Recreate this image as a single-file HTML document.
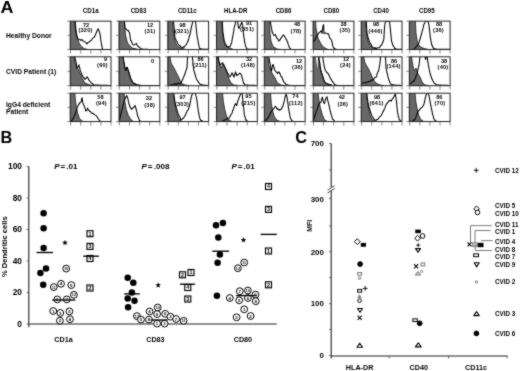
<!DOCTYPE html>
<html><head><meta charset="utf-8"><style>
html,body{margin:0;padding:0;background:#fff;}
body{width:520px;height:371px;overflow:hidden;}
svg{display:block;font-family:"Liberation Sans", sans-serif;}
</style></head><body>
<svg width="520" height="371" viewBox="0 0 520 371">
<defs><filter id="soft" x="0" y="0" width="1" height="1" color-interpolation-filters="sRGB"><feConvolveMatrix order="3" kernelMatrix="1 2 1 2 16 2 1 2 1" divisor="28" edgeMode="duplicate"/></filter></defs>
<g filter="url(#soft)">
<rect width="520" height="371" fill="#fff"/>
<defs>
<clipPath id="c00"><rect x="70.2" y="21.15" width="40.8" height="28.4"/></clipPath>
<clipPath id="c01"><rect x="119" y="21.15" width="40.8" height="28.4"/></clipPath>
<clipPath id="c02"><rect x="167.8" y="21.15" width="40.8" height="28.4"/></clipPath>
<clipPath id="c03"><rect x="216.5" y="21.15" width="40.8" height="28.4"/></clipPath>
<clipPath id="c04"><rect x="264.3" y="21.15" width="40.8" height="28.4"/></clipPath>
<clipPath id="c05"><rect x="313.1" y="21.15" width="40.8" height="28.4"/></clipPath>
<clipPath id="c06"><rect x="361.2" y="21.15" width="40.8" height="28.4"/></clipPath>
<clipPath id="c07"><rect x="409.3" y="21.15" width="40.8" height="28.4"/></clipPath>
<clipPath id="c10"><rect x="70.2" y="56.8" width="40.8" height="28.9"/></clipPath>
<clipPath id="c11"><rect x="119" y="56.8" width="40.8" height="28.9"/></clipPath>
<clipPath id="c12"><rect x="167.8" y="56.8" width="40.8" height="28.9"/></clipPath>
<clipPath id="c13"><rect x="216.5" y="56.8" width="40.8" height="28.9"/></clipPath>
<clipPath id="c14"><rect x="264.3" y="56.8" width="40.8" height="28.9"/></clipPath>
<clipPath id="c15"><rect x="313.1" y="56.8" width="40.8" height="28.9"/></clipPath>
<clipPath id="c16"><rect x="361.2" y="56.8" width="40.8" height="28.9"/></clipPath>
<clipPath id="c17"><rect x="409.3" y="56.8" width="40.8" height="28.9"/></clipPath>
<clipPath id="c20"><rect x="70.2" y="93.2" width="40.8" height="28.35"/></clipPath>
<clipPath id="c21"><rect x="119" y="93.2" width="40.8" height="28.35"/></clipPath>
<clipPath id="c22"><rect x="167.8" y="93.2" width="40.8" height="28.35"/></clipPath>
<clipPath id="c23"><rect x="216.5" y="93.2" width="40.8" height="28.35"/></clipPath>
<clipPath id="c24"><rect x="264.3" y="93.2" width="40.8" height="28.35"/></clipPath>
<clipPath id="c25"><rect x="313.1" y="93.2" width="40.8" height="28.35"/></clipPath>
<clipPath id="c26"><rect x="361.2" y="93.2" width="40.8" height="28.35"/></clipPath>
<clipPath id="c27"><rect x="409.3" y="93.2" width="40.8" height="28.35"/></clipPath>
</defs>
<g clip-path="url(#c00)">
<polygon points="70.2,49.55 70.2,18.15 75,18.15 76,30 76.8,35.4 78,40 79.4,43.6 81.5,46.5 84.5,48.7 88,49.5 88,49.55" fill="#686868" stroke="#1a1a1a" stroke-width="0.8"/>
<polyline points="74.6,18.15 74.68,19.06 74.75,19.97 74.83,20.88 74.91,21.8 74.98,22.51 75.06,23.24 75.14,24.7 75.22,24.97 75.29,26.39 75.37,27.12 75.45,27.69 75.52,29.1 75.6,29.49 75.77,30.83 75.93,31.33 76.1,32.25 76.27,33.52 76.43,34.86 76.6,34.99 76.93,36.13 77.27,37.61 77.6,38.99 78.5,39.08 79.4,39.39 80.7,40.27 82,39.5 82.83,41.06 83.67,41.1 84.5,41.61 85.33,42.11 86.17,42.86 87,43.95 87.87,42.58 88.73,42.36 89.6,41.75 90.47,40.76 91.33,40.25 92.2,39.02 92.85,38.24 93.5,37.63 94.15,37.37 94.8,36.32 95.13,35.35 95.47,34.79 95.8,33.8 96.13,32.78 96.47,32.47 96.8,31.52 97.3,30.12 97.8,29.58 98.3,28.63 98.62,29.97 98.94,30.77 99.26,31.25 99.58,32.97 99.9,32.98 100.04,34.24 100.17,35.54 100.31,35.8 100.45,37.1 100.58,37.53 100.72,39.15 100.85,40.18 100.99,40.9 101.13,42.16 101.26,42.47 101.4,43.81 101.6,44.72 101.8,45.73 102,46.61 102.2,48.05 102.4,48.7 103.2,49.6 104.17,49.6 105.15,49.6 106.12,49.6 107.1,49.6 108.08,49.6 109.05,49.6 110.03,49.6 111,49.6" fill="none" stroke="#000" stroke-width="1.05" stroke-linejoin="round"/>
</g>
<rect x="70.2" y="21.15" width="40.8" height="28.4" fill="none" stroke="#222" stroke-width="1"/>
<line x1="70.6" y1="49.55" x2="70.6" y2="53.55" stroke="#555" stroke-width="0.7"/>
<line x1="80.7" y1="49.55" x2="80.7" y2="53.55" stroke="#555" stroke-width="0.7"/>
<line x1="90.8" y1="49.55" x2="90.8" y2="53.55" stroke="#555" stroke-width="0.7"/>
<line x1="100.9" y1="49.55" x2="100.9" y2="53.55" stroke="#555" stroke-width="0.7"/>
<line x1="111" y1="49.55" x2="111" y2="53.55" stroke="#555" stroke-width="0.7"/>
<line x1="67.2" y1="21.15" x2="70.2" y2="21.15" stroke="#555" stroke-width="0.7"/>
<line x1="67.2" y1="35.35" x2="70.2" y2="35.35" stroke="#555" stroke-width="0.7"/>
<line x1="67.2" y1="49.55" x2="70.2" y2="49.55" stroke="#555" stroke-width="0.7"/>
<text x="86" y="26.7" font-size="5.6" text-anchor="middle" font-weight="bold" font-style="normal" >72</text>
<text x="85.5" y="32.4" font-size="5.6" text-anchor="middle" font-weight="bold" font-style="normal" letter-spacing="0.22">(320)</text>
<g clip-path="url(#c01)">
<polygon points="119,49.55 119,18.15 124,18.15 125.5,35 127.5,43 132,48 139,49.5 139,49.55" fill="#686868" stroke="#1a1a1a" stroke-width="0.8"/>
<polyline points="124.2,18.15 124.28,19.13 124.36,20.12 124.44,21.11 124.52,22.58 124.6,23.05 124.68,24.24 124.76,24.56 124.84,26.25 124.92,27.18 125,28.54 125.67,29.02 126.33,29.1 127,29.87 127.75,30.69 128.5,30.47 129,31.96 129.5,32.63 129.64,33.58 129.79,34.51 129.93,36.3 130.07,36.59 130.21,37.72 130.36,38.88 130.5,40.41 131,40.44 131.5,41.74 132,42.75 132.5,44.02 133,44.85 134,44.95 135,44.36 135.75,43.96 136.5,43.34 137,44.92 137.5,46 138.17,45.95 138.83,46.81 139.5,47.71 140.38,48.03 141.25,48.65 142.12,48.97 143,49.3 143.93,49.32 144.87,49.33 145.8,49.35 146.73,49.37 147.67,49.38 148.6,49.4 149.53,49.42 150.47,49.43 151.4,49.45 152.33,49.47 153.27,49.48 154.2,49.5 155.13,49.52 156.07,49.53 157,49.55 157.93,49.57 158.87,49.58 159.8,49.6" fill="none" stroke="#000" stroke-width="1.05" stroke-linejoin="round"/>
</g>
<rect x="119" y="21.15" width="40.8" height="28.4" fill="none" stroke="#222" stroke-width="1"/>
<line x1="119.4" y1="49.55" x2="119.4" y2="53.55" stroke="#555" stroke-width="0.7"/>
<line x1="129.5" y1="49.55" x2="129.5" y2="53.55" stroke="#555" stroke-width="0.7"/>
<line x1="139.6" y1="49.55" x2="139.6" y2="53.55" stroke="#555" stroke-width="0.7"/>
<line x1="149.7" y1="49.55" x2="149.7" y2="53.55" stroke="#555" stroke-width="0.7"/>
<line x1="159.8" y1="49.55" x2="159.8" y2="53.55" stroke="#555" stroke-width="0.7"/>
<line x1="116" y1="21.15" x2="119" y2="21.15" stroke="#555" stroke-width="0.7"/>
<line x1="116" y1="35.35" x2="119" y2="35.35" stroke="#555" stroke-width="0.7"/>
<line x1="116" y1="49.55" x2="119" y2="49.55" stroke="#555" stroke-width="0.7"/>
<text x="150" y="26.7" font-size="5.6" text-anchor="middle" font-weight="bold" font-style="normal" >12</text>
<text x="150" y="32.7" font-size="5.6" text-anchor="middle" font-weight="bold" font-style="normal" letter-spacing="0.22">(31)</text>
<g clip-path="url(#c02)">
<polygon points="167.8,49.55 167.8,18.15 172.5,18.15 173.5,33 175,41 177,46 182,48.5 186,49.5 186,49.55" fill="#686868" stroke="#1a1a1a" stroke-width="0.8"/>
<polyline points="173.3,18.15 173.38,19.05 173.45,19.95 173.53,20.86 173.61,21.76 173.69,22.64 173.76,23.66 173.84,24.2 173.92,24.82 174,26.18 174.07,27.03 174.15,28.15 174.23,29.48 174.3,30.09 174.38,30.8 174.46,31.81 174.54,32.78 174.61,33 174.69,34.83 174.77,35.6 174.85,36.61 174.92,37.43 175,37.88 175.43,38.82 175.86,39.42 176.29,40.93 176.71,41.23 177.14,42.17 177.57,43.25 178,44.13 178.75,45.02 179.5,45.41 180.25,46.05 181,46.92 181.95,47.16 182.9,47.75 183.58,46.78 184.26,47.11 184.94,46.23 185.62,45.11 186.3,44.63 186.67,43.87 187.03,43.02 187.4,41.89 187.77,41.82 188.13,41.11 188.5,39.66 188.78,38.68 189.07,37.24 189.35,36.26 189.63,35.53 189.92,34.44 190.2,34.06 190.39,32.34 190.57,31.2 190.76,31.24 190.94,29.79 191.13,28.38 191.31,27.83 191.5,26.28 191.72,25.85 191.93,25.36 192.15,24.25 192.37,23.08 192.58,21.88 192.8,20.9 194.1,20.9 195.4,20.9 195.51,21.86 195.63,22.55 195.74,23.62 195.86,24.36 195.97,25.98 196.09,26.68 196.2,27.91 196.3,28.38 196.4,29.23 196.5,30.84 196.6,32 196.7,32.82 196.8,33.74 196.9,34.72 197,35.6 197.1,36 197.29,37.31 197.47,38.11 197.66,38.74 197.84,39.72 198.03,40.99 198.21,41.95 198.4,43.41 198.66,44.74 198.92,45.22 199.18,46.8 199.44,47.9 199.7,48.4 200.55,48.75 201.4,49.1 202.3,49.12 203.2,49.15 204.1,49.17 205,49.2 205.9,49.23 206.8,49.25 207.7,49.27 208.6,49.3" fill="none" stroke="#000" stroke-width="1.05" stroke-linejoin="round"/>
</g>
<rect x="167.8" y="21.15" width="40.8" height="28.4" fill="none" stroke="#222" stroke-width="1"/>
<line x1="168.2" y1="49.55" x2="168.2" y2="53.55" stroke="#555" stroke-width="0.7"/>
<line x1="178.3" y1="49.55" x2="178.3" y2="53.55" stroke="#555" stroke-width="0.7"/>
<line x1="188.4" y1="49.55" x2="188.4" y2="53.55" stroke="#555" stroke-width="0.7"/>
<line x1="198.5" y1="49.55" x2="198.5" y2="53.55" stroke="#555" stroke-width="0.7"/>
<line x1="208.6" y1="49.55" x2="208.6" y2="53.55" stroke="#555" stroke-width="0.7"/>
<line x1="164.8" y1="21.15" x2="167.8" y2="21.15" stroke="#555" stroke-width="0.7"/>
<line x1="164.8" y1="35.35" x2="167.8" y2="35.35" stroke="#555" stroke-width="0.7"/>
<line x1="164.8" y1="49.55" x2="167.8" y2="49.55" stroke="#555" stroke-width="0.7"/>
<text x="182.5" y="26.5" font-size="5.6" text-anchor="middle" font-weight="bold" font-style="normal" >98</text>
<text x="182" y="32.5" font-size="5.6" text-anchor="middle" font-weight="bold" font-style="normal" letter-spacing="0.22">(321)</text>
<g clip-path="url(#c03)">
<polygon points="216.5,49.55 216.5,18.15 222,18.15 222.5,31.9 223.3,38.8 224.6,44 227.2,46.6 229.8,47.9 233,49.2 233,49.55" fill="#686868" stroke="#1a1a1a" stroke-width="0.8"/>
<polyline points="222,18.15 222.06,19.07 222.12,19.98 222.18,20.9 222.24,21.82 222.3,23.23 222.36,23.5 222.42,24.26 222.48,25.18 222.54,26.07 222.6,26.99 222.66,28.37 222.72,29.59 222.78,30.44 222.84,30.96 222.9,32.07 223.04,33.2 223.19,33.38 223.33,34.98 223.48,36.22 223.62,37.04 223.77,37.98 223.91,38.64 224.06,39.28 224.2,40.92 224.55,41.27 224.9,42.63 225.25,43.67 225.6,43.89 225.95,44.74 226.3,46.19 227.2,46.8 228.1,47.04 228.95,46.59 229.8,46.22 230.23,46.17 230.65,45.19 231.07,43.59 231.5,43.46 231.69,42.64 231.87,41.3 232.06,39.98 232.24,39.21 232.43,37.77 232.61,36.65 232.8,36.72 232.96,35.4 233.12,34.3 233.29,33.79 233.45,32.28 233.61,31.8 233.78,30.78 233.94,29.14 234.1,28.23 234.36,27.23 234.62,26.13 234.88,25.48 235.14,24.08 235.4,23.21 235.7,21.64 236,20.8 237.6,20.8 237.7,21.85 237.8,23.35 237.9,23.79 238,24.95 238.27,26.26 238.53,27.78 238.8,28.41 239.25,28.11 239.7,26.8 240.13,25.97 240.57,25.09 241,23.67 241.45,23.28 241.9,22.15 242.17,23.09 242.43,25.1 242.7,25.54 242.78,26.87 242.87,28.15 242.95,28.96 243.03,29.71 243.12,30.92 243.2,31.96 243.33,33.21 243.47,33.47 243.6,34.97 243.73,35.62 243.87,36.65 244,38.2 244.18,38.95 244.36,40.05 244.54,41.31 244.72,42.51 244.9,43.04 245.17,44.39 245.43,45.44 245.7,46.61 246.35,47.86 247,48.7 247.9,48.95 248.8,49.2 249.74,49.21 250.69,49.22 251.63,49.23 252.58,49.24 253.52,49.26 254.47,49.27 255.41,49.28 256.36,49.29 257.3,49.3" fill="none" stroke="#000" stroke-width="1.05" stroke-linejoin="round"/>
</g>
<rect x="216.5" y="21.15" width="40.8" height="28.4" fill="none" stroke="#222" stroke-width="1"/>
<line x1="216.9" y1="49.55" x2="216.9" y2="53.55" stroke="#555" stroke-width="0.7"/>
<line x1="227" y1="49.55" x2="227" y2="53.55" stroke="#555" stroke-width="0.7"/>
<line x1="237.1" y1="49.55" x2="237.1" y2="53.55" stroke="#555" stroke-width="0.7"/>
<line x1="247.2" y1="49.55" x2="247.2" y2="53.55" stroke="#555" stroke-width="0.7"/>
<line x1="257.3" y1="49.55" x2="257.3" y2="53.55" stroke="#555" stroke-width="0.7"/>
<line x1="213.5" y1="21.15" x2="216.5" y2="21.15" stroke="#555" stroke-width="0.7"/>
<line x1="213.5" y1="35.35" x2="216.5" y2="35.35" stroke="#555" stroke-width="0.7"/>
<line x1="213.5" y1="49.55" x2="216.5" y2="49.55" stroke="#555" stroke-width="0.7"/>
<text x="249" y="25.4" font-size="5.6" text-anchor="middle" font-weight="bold" font-style="normal" >91</text>
<text x="247" y="31.2" font-size="5.6" text-anchor="middle" font-weight="bold" font-style="normal" letter-spacing="0.22">(351)</text>
<g clip-path="url(#c04)">
<polygon points="264.3,49.55 264.3,18.15 269.5,18.15 270,33 271,41 273,46.5 277,49 281,49.5 281,49.55" fill="#686868" stroke="#1a1a1a" stroke-width="0.8"/>
<polyline points="269.8,18.15 269.95,19.05 270.11,19.94 270.26,20.84 270.42,21.73 270.57,22.57 270.73,23.56 270.88,24.39 271.04,25.8 271.19,26.43 271.35,27.52 271.5,28.49 271.7,28.74 271.9,30.07 272.1,31.49 272.3,32.37 272.5,32.6 273,33.58 273.5,34.94 274,35.53 274.75,35.21 275.5,34.53 276,36.19 276.5,37.31 277,38.44 277.5,38.62 278.25,40.24 279,41.18 279.5,39.86 280,39.92 280.5,39.26 281,37.69 281.62,37.62 282.25,36.14 282.88,35.36 283.5,35.04 284,35.74 284.5,35.88 285,37.05 285.5,38.02 286,38.82 286.5,39.67 287,40.8 287.5,42.24 287.8,42.47 288.1,44.06 288.4,44.93 288.7,45.47 289,46.81 289.67,47.97 290.33,48.67 291,49.5 291.93,49.51 292.87,49.51 293.8,49.52 294.73,49.53 295.67,49.53 296.6,49.54 297.53,49.55 298.47,49.55 299.4,49.56 300.33,49.57 301.27,49.57 302.2,49.58 303.13,49.59 304.07,49.59 305,49.6" fill="none" stroke="#000" stroke-width="1.05" stroke-linejoin="round"/>
</g>
<rect x="264.3" y="21.15" width="40.8" height="28.4" fill="none" stroke="#222" stroke-width="1"/>
<line x1="264.7" y1="49.55" x2="264.7" y2="53.55" stroke="#555" stroke-width="0.7"/>
<line x1="274.8" y1="49.55" x2="274.8" y2="53.55" stroke="#555" stroke-width="0.7"/>
<line x1="284.9" y1="49.55" x2="284.9" y2="53.55" stroke="#555" stroke-width="0.7"/>
<line x1="295" y1="49.55" x2="295" y2="53.55" stroke="#555" stroke-width="0.7"/>
<line x1="305.1" y1="49.55" x2="305.1" y2="53.55" stroke="#555" stroke-width="0.7"/>
<line x1="261.3" y1="21.15" x2="264.3" y2="21.15" stroke="#555" stroke-width="0.7"/>
<line x1="261.3" y1="35.35" x2="264.3" y2="35.35" stroke="#555" stroke-width="0.7"/>
<line x1="261.3" y1="49.55" x2="264.3" y2="49.55" stroke="#555" stroke-width="0.7"/>
<text x="297" y="26" font-size="5.6" text-anchor="middle" font-weight="bold" font-style="normal" >48</text>
<text x="296" y="32.5" font-size="5.6" text-anchor="middle" font-weight="bold" font-style="normal" letter-spacing="0.22">(78)</text>
<g clip-path="url(#c05)">
<polygon points="313.1,49.55 313.1,18.15 315.5,18.15 316,28 318,38 321,44 324,47.5 328,49.5 332,49.8 332,49.55" fill="#686868" stroke="#1a1a1a" stroke-width="0.8"/>
<polyline points="313.5,42.01 314,40.66 314.5,40.82 315,39.75 315.5,39.09 316,37.28 316.5,36.6 317,35.49 317.5,35.51 318,34.15 318.5,33.19 319,32.71 319.5,32.45 320.25,31.85 321,30.73 321.5,31.61 322,33.46 322.15,32.08 322.3,31.22 322.45,29.55 322.6,28.51 322.75,28.21 322.9,26.92 323.05,25.53 323.2,25.48 323.6,24.65 323.64,25.78 323.69,25.93 323.73,27.73 323.78,27.8 323.82,29.62 323.87,30.12 323.91,30.93 323.96,32.11 324,33.47 325,32.99 326,33.09 327.25,33.78 328.5,33.71 328.75,34.57 329,35.63 329.25,36.51 329.5,37.67 330.17,38.46 330.83,39.12 331.5,40.29 331.71,40.77 331.93,42 332.14,42.65 332.36,43.83 332.57,44.47 332.79,45.73 333,46.47 333.75,48.01 334.5,48.5 335.33,48.9 336.17,49.3 337,49.7 337.91,49.7 338.82,49.7 339.73,49.7 340.64,49.7 341.56,49.7 342.47,49.7 343.38,49.7 344.29,49.7 345.2,49.7 346.11,49.7 347.02,49.7 347.93,49.7 348.84,49.7 349.76,49.7 350.67,49.7 351.58,49.7 352.49,49.7 353.4,49.7" fill="none" stroke="#000" stroke-width="1.05" stroke-linejoin="round"/>
</g>
<rect x="313.1" y="21.15" width="40.8" height="28.4" fill="none" stroke="#222" stroke-width="1"/>
<line x1="313.5" y1="49.55" x2="313.5" y2="53.55" stroke="#555" stroke-width="0.7"/>
<line x1="323.6" y1="49.55" x2="323.6" y2="53.55" stroke="#555" stroke-width="0.7"/>
<line x1="333.7" y1="49.55" x2="333.7" y2="53.55" stroke="#555" stroke-width="0.7"/>
<line x1="343.8" y1="49.55" x2="343.8" y2="53.55" stroke="#555" stroke-width="0.7"/>
<line x1="353.9" y1="49.55" x2="353.9" y2="53.55" stroke="#555" stroke-width="0.7"/>
<line x1="310.1" y1="21.15" x2="313.1" y2="21.15" stroke="#555" stroke-width="0.7"/>
<line x1="310.1" y1="35.35" x2="313.1" y2="35.35" stroke="#555" stroke-width="0.7"/>
<line x1="310.1" y1="49.55" x2="313.1" y2="49.55" stroke="#555" stroke-width="0.7"/>
<text x="343.5" y="26" font-size="5.6" text-anchor="middle" font-weight="bold" font-style="normal" >38</text>
<text x="345" y="32.2" font-size="5.6" text-anchor="middle" font-weight="bold" font-style="normal" letter-spacing="0.22">(35)</text>
<g clip-path="url(#c06)">
<polygon points="361.2,49.55 361.2,18.15 365.5,18.15 366.5,33 368,41 370,45.5 373,48 378,49.5 378,49.55" fill="#686868" stroke="#1a1a1a" stroke-width="0.8"/>
<polyline points="366,18.15 366.06,19.08 366.12,20.01 366.19,20.93 366.25,21.86 366.31,22.85 366.38,23.38 366.44,24.62 366.5,26.05 366.56,26.07 366.62,27.78 366.69,28.28 366.75,29.28 366.81,30.58 366.88,31.03 366.94,32.08 367,33.21 367.22,34.42 367.44,34.6 367.67,36.03 367.89,36.78 368.11,37.59 368.33,38.23 368.56,39.05 368.78,39.62 369,40.59 369.5,41.44 370,43.1 370.5,43.48 371,44.3 371.5,45.13 372,46.88 373,47.41 374,47.69 375,47.76 376,48.5 377.17,47.98 378.33,47.81 379.5,47.76 380,46.66 380.5,46.22 381,45.26 381.5,45.27 382,44.52 382.36,43.19 382.72,42 383.08,41.93 383.44,40.35 383.8,39.54 383.85,38.25 383.91,37.77 383.96,36.97 384.02,36.1 384.07,34.87 384.12,34.31 384.18,32.86 384.23,32.24 384.28,31.15 384.34,30.59 384.39,29.3 384.45,28.37 384.5,27.78 384.6,26.71 384.7,26.09 384.8,25.03 384.9,24.28 385,23.17 385.8,21.5 386.73,21.5 387.65,21.5 388.57,21.5 389.5,21.5 389.62,22.75 389.73,23.95 389.85,24.43 389.97,25.38 390.08,27.12 390.2,27.21 390.3,28.81 390.4,29.69 390.5,30 390.6,31.84 390.7,32.86 390.8,33.54 390.9,34.62 391,35.68 391.1,35.9 391.2,37.4 391.3,38.45 391.4,39.89 391.5,40.94 391.82,42.03 392.15,42.84 392.48,44.26 392.8,45.1 393.25,45.99 393.7,46.35 394.15,47.01 394.6,48.4 395.8,48.8 397,49.2 397.96,49.22 398.92,49.24 399.88,49.26 400.84,49.28 401.8,49.3" fill="none" stroke="#000" stroke-width="1.05" stroke-linejoin="round"/>
</g>
<rect x="361.2" y="21.15" width="40.8" height="28.4" fill="none" stroke="#222" stroke-width="1"/>
<line x1="361.6" y1="49.55" x2="361.6" y2="53.55" stroke="#555" stroke-width="0.7"/>
<line x1="371.7" y1="49.55" x2="371.7" y2="53.55" stroke="#555" stroke-width="0.7"/>
<line x1="381.8" y1="49.55" x2="381.8" y2="53.55" stroke="#555" stroke-width="0.7"/>
<line x1="391.9" y1="49.55" x2="391.9" y2="53.55" stroke="#555" stroke-width="0.7"/>
<line x1="402" y1="49.55" x2="402" y2="53.55" stroke="#555" stroke-width="0.7"/>
<line x1="358.2" y1="21.15" x2="361.2" y2="21.15" stroke="#555" stroke-width="0.7"/>
<line x1="358.2" y1="35.35" x2="361.2" y2="35.35" stroke="#555" stroke-width="0.7"/>
<line x1="358.2" y1="49.55" x2="361.2" y2="49.55" stroke="#555" stroke-width="0.7"/>
<text x="376" y="26" font-size="5.6" text-anchor="middle" font-weight="bold" font-style="normal" >98</text>
<text x="375.5" y="32.5" font-size="5.6" text-anchor="middle" font-weight="bold" font-style="normal" letter-spacing="0.22">(446)</text>
<g clip-path="url(#c07)">
<polygon points="409.3,49.55 409.3,18.15 415.2,18.15 416,33 417,40 418.5,44.5 421,47.2 425,48.8 428,49.3 428,49.55" fill="#686868" stroke="#1a1a1a" stroke-width="0.8"/>
<polyline points="412,49.4 413.3,49.25 414.6,49.1 415.23,47.83 415.87,47.21 416.5,46.07 417.17,46.04 417.83,44.9 418.5,44.14 418.76,43.28 419.02,42.47 419.29,41.4 419.55,40 419.81,40.01 420.08,39.1 420.34,37.97 420.6,37.14 420.88,36.28 421.17,34.62 421.45,34.36 421.73,32.83 422.02,31.63 422.3,30.84 422.54,30.37 422.79,28.8 423.03,28.41 423.27,27.68 423.51,26.16 423.76,25.06 424,24.18 424.47,23.4 424.93,22.49 425.4,21.2 425.9,20.7 426.95,20.7 428,20.7 428.27,21.87 428.53,23.16 428.8,24.36 428.91,24.7 429.02,25.74 429.14,26.82 429.25,28.32 429.36,28.8 429.48,30.05 429.59,30.4 429.7,31.42 429.81,32.63 429.93,34.06 430.04,35.07 430.16,36.04 430.27,36.6 430.39,37.83 430.5,38.76 430.72,39.78 430.93,40.41 431.15,42.28 431.37,42.54 431.58,44.41 431.8,45.38 432.23,45.2 432.67,46.52 433.1,47.75 433.95,48.56 434.8,48.7 435.9,48.95 437,49.2 437.93,49.21 438.86,49.21 439.79,49.22 440.71,49.23 441.64,49.24 442.57,49.24 443.5,49.25 444.43,49.26 445.36,49.26 446.29,49.27 447.21,49.28 448.14,49.29 449.07,49.29 450,49.3" fill="none" stroke="#000" stroke-width="1.05" stroke-linejoin="round"/>
</g>
<rect x="409.3" y="21.15" width="40.8" height="28.4" fill="none" stroke="#222" stroke-width="1"/>
<line x1="409.7" y1="49.55" x2="409.7" y2="53.55" stroke="#555" stroke-width="0.7"/>
<line x1="419.8" y1="49.55" x2="419.8" y2="53.55" stroke="#555" stroke-width="0.7"/>
<line x1="429.9" y1="49.55" x2="429.9" y2="53.55" stroke="#555" stroke-width="0.7"/>
<line x1="440" y1="49.55" x2="440" y2="53.55" stroke="#555" stroke-width="0.7"/>
<line x1="450.1" y1="49.55" x2="450.1" y2="53.55" stroke="#555" stroke-width="0.7"/>
<line x1="406.3" y1="21.15" x2="409.3" y2="21.15" stroke="#555" stroke-width="0.7"/>
<line x1="406.3" y1="35.35" x2="409.3" y2="35.35" stroke="#555" stroke-width="0.7"/>
<line x1="406.3" y1="49.55" x2="409.3" y2="49.55" stroke="#555" stroke-width="0.7"/>
<text x="439" y="26" font-size="5.6" text-anchor="middle" font-weight="bold" font-style="normal" >88</text>
<text x="438.5" y="32.2" font-size="5.6" text-anchor="middle" font-weight="bold" font-style="normal" letter-spacing="0.22">(36)</text>
<g clip-path="url(#c10)">
<polygon points="70.2,85.7 70.2,53.8 73.5,53.8 75,63 77,67 79,71 82,78 85,83 90,85 94,85.5 94,85.7" fill="#686868" stroke="#1a1a1a" stroke-width="0.8"/>
<polyline points="74,53.8 74.22,54.71 74.44,55.62 74.67,56.53 74.89,57.44 75.11,58.3 75.33,59.01 75.56,59.86 75.78,61.58 76,61.68 76.17,63.09 76.33,63.61 76.5,65.03 76.67,66.5 76.83,66.6 77,68.35 77.5,67.26 78,66.93 78.5,65.97 79,64.7 79.2,66.44 79.4,66.98 79.6,67.48 79.8,68.45 80,69.99 80.36,70.8 80.71,71.5 81.07,72.18 81.43,73.26 81.79,74.08 82.14,75.52 82.5,75.45 83.12,77.03 83.75,77.87 84.38,77.83 85,79.47 85.67,78.57 86.33,78.11 87,76.77 87.75,77.86 88.5,78.88 89,80.35 89.5,80.7 90,81.25 90.5,82.12 91,82.75 91.75,83 92.5,83.56 93.25,84.5 94,85 94.94,85.03 95.89,85.06 96.83,85.08 97.78,85.11 98.72,85.14 99.67,85.17 100.61,85.19 101.56,85.22 102.5,85.25 103.44,85.28 104.39,85.31 105.33,85.33 106.28,85.36 107.22,85.39 108.17,85.42 109.11,85.44 110.06,85.47 111,85.5" fill="none" stroke="#000" stroke-width="1.05" stroke-linejoin="round"/>
</g>
<rect x="70.2" y="56.8" width="40.8" height="28.9" fill="none" stroke="#222" stroke-width="1"/>
<line x1="70.6" y1="85.7" x2="70.6" y2="89.7" stroke="#555" stroke-width="0.7"/>
<line x1="80.7" y1="85.7" x2="80.7" y2="89.7" stroke="#555" stroke-width="0.7"/>
<line x1="90.8" y1="85.7" x2="90.8" y2="89.7" stroke="#555" stroke-width="0.7"/>
<line x1="100.9" y1="85.7" x2="100.9" y2="89.7" stroke="#555" stroke-width="0.7"/>
<line x1="111" y1="85.7" x2="111" y2="89.7" stroke="#555" stroke-width="0.7"/>
<line x1="67.2" y1="56.8" x2="70.2" y2="56.8" stroke="#555" stroke-width="0.7"/>
<line x1="67.2" y1="71.25" x2="70.2" y2="71.25" stroke="#555" stroke-width="0.7"/>
<line x1="67.2" y1="85.7" x2="70.2" y2="85.7" stroke="#555" stroke-width="0.7"/>
<text x="105.5" y="60.8" font-size="5.6" text-anchor="middle" font-weight="bold" font-style="normal" >9</text>
<text x="102.5" y="66.8" font-size="5.6" text-anchor="middle" font-weight="bold" font-style="normal" letter-spacing="0.22">(60)</text>
<g clip-path="url(#c11)">
<polygon points="119,85.7 119,53.8 122.5,53.8 124,63 125.5,70 127,67 128.5,71 130.5,78 133,83 137,85 142,85.5 142,85.7" fill="#686868" stroke="#1a1a1a" stroke-width="0.8"/>
<polyline points="122.5,53.8 122.65,54.72 122.8,55.64 122.95,56.56 123.1,57.48 123.25,58.77 123.4,59.08 123.55,60.72 123.7,60.88 123.85,61.82 124,63.01 124.21,63.66 124.43,64.86 124.64,66.5 124.86,67.42 125.07,68.34 125.29,69.14 125.5,70.45 126,69.48 126.5,68.05 127,67.24 127.38,67.5 127.75,69.26 128.12,69.95 128.5,71.28 128.75,72.03 129,72.51 129.25,73.13 129.5,74.97 129.75,74.97 130,76.22 130.25,76.95 130.5,77.78 130.92,79.1 131.33,80.19 131.75,80.24 132.17,81.5 132.58,81.95 133,83.06 134,83.38 135,83.63 136,84.5 137,85 138,85.1 139,85.2 140,85.3 141,85.4 142,85.5 142.94,85.5 143.87,85.5 144.81,85.5 145.75,85.5 146.68,85.5 147.62,85.5 148.56,85.5 149.49,85.5 150.43,85.5 151.37,85.5 152.31,85.5 153.24,85.5 154.18,85.5 155.12,85.5 156.05,85.5 156.99,85.5 157.93,85.5 158.86,85.5 159.8,85.5" fill="none" stroke="#000" stroke-width="1.05" stroke-linejoin="round"/>
</g>
<rect x="119" y="56.8" width="40.8" height="28.9" fill="none" stroke="#222" stroke-width="1"/>
<line x1="119.4" y1="85.7" x2="119.4" y2="89.7" stroke="#555" stroke-width="0.7"/>
<line x1="129.5" y1="85.7" x2="129.5" y2="89.7" stroke="#555" stroke-width="0.7"/>
<line x1="139.6" y1="85.7" x2="139.6" y2="89.7" stroke="#555" stroke-width="0.7"/>
<line x1="149.7" y1="85.7" x2="149.7" y2="89.7" stroke="#555" stroke-width="0.7"/>
<line x1="159.8" y1="85.7" x2="159.8" y2="89.7" stroke="#555" stroke-width="0.7"/>
<line x1="116" y1="56.8" x2="119" y2="56.8" stroke="#555" stroke-width="0.7"/>
<line x1="116" y1="71.25" x2="119" y2="71.25" stroke="#555" stroke-width="0.7"/>
<line x1="116" y1="85.7" x2="119" y2="85.7" stroke="#555" stroke-width="0.7"/>
<text x="152.5" y="63.2" font-size="5.6" text-anchor="middle" font-weight="bold" font-style="normal" >0</text>
<g clip-path="url(#c12)">
<polygon points="167.8,85.7 167.8,53.8 169.5,53.8 171,63 174,68 177,74 179.5,79 181,83 185,85 189,85.5 189,85.7" fill="#686868" stroke="#1a1a1a" stroke-width="0.8"/>
<polyline points="169.5,85.4 170.43,85.2 171.36,85 172.29,84.8 173.21,84.6 174.14,84.03 175.07,83.88 176,84.45 177,83.8 178,83.29 179,83.85 180,83.75 181,82.94 181.5,81.6 182,80.66 182.5,79.55 183,78.83 183.31,77.68 183.62,76.96 183.94,76.11 184.25,75.58 184.56,75.05 184.88,74.02 185.19,72.78 185.5,71.91 185.88,71.03 186.25,69.86 186.62,68.82 187,67.52 187.04,66.84 187.08,66.68 187.12,64.84 187.17,64.34 187.21,63.56 187.25,62.9 187.29,61.27 187.33,60.41 187.38,59.47 187.42,58.72 187.46,57.86 187.5,57 187.57,55.93 187.63,54.87 187.7,53.8 188.62,53.8 189.54,53.8 190.46,53.8 191.38,53.8 192.3,53.8 192.37,54.87 192.43,55.93 192.5,57 192.56,58.5 192.62,59.38 192.69,60.41 192.75,60.47 192.81,61.49 192.88,63.23 192.94,64.44 193,64.97 193.17,65.98 193.33,66.23 193.5,67.55 193.67,69.03 193.83,69.8 194,70.72 194.17,71.74 194.33,71.83 194.5,72.57 194.81,73.49 195.12,74.77 195.44,75.83 195.75,76.99 196.06,77.62 196.38,78.41 196.69,79.42 197,79.95 197.5,80.81 198,80.99 198.5,82.56 199,82.71 199.75,83.96 200.5,84.16 201.25,84.5 202,85 202.94,85.07 203.89,85.14 204.83,85.21 205.77,85.29 206.71,85.36 207.66,85.43 208.6,85.5" fill="none" stroke="#000" stroke-width="1.05" stroke-linejoin="round"/>
</g>
<rect x="167.8" y="56.8" width="40.8" height="28.9" fill="none" stroke="#222" stroke-width="1"/>
<line x1="168.2" y1="85.7" x2="168.2" y2="89.7" stroke="#555" stroke-width="0.7"/>
<line x1="178.3" y1="85.7" x2="178.3" y2="89.7" stroke="#555" stroke-width="0.7"/>
<line x1="188.4" y1="85.7" x2="188.4" y2="89.7" stroke="#555" stroke-width="0.7"/>
<line x1="198.5" y1="85.7" x2="198.5" y2="89.7" stroke="#555" stroke-width="0.7"/>
<line x1="208.6" y1="85.7" x2="208.6" y2="89.7" stroke="#555" stroke-width="0.7"/>
<line x1="164.8" y1="56.8" x2="167.8" y2="56.8" stroke="#555" stroke-width="0.7"/>
<line x1="164.8" y1="71.25" x2="167.8" y2="71.25" stroke="#555" stroke-width="0.7"/>
<line x1="164.8" y1="85.7" x2="167.8" y2="85.7" stroke="#555" stroke-width="0.7"/>
<text x="200.5" y="61.2" font-size="5.6" text-anchor="middle" font-weight="bold" font-style="normal" >86</text>
<text x="200" y="67.2" font-size="5.6" text-anchor="middle" font-weight="bold" font-style="normal" letter-spacing="0.22">(211)</text>
<g clip-path="url(#c13)">
<polygon points="216.5,85.7 216.5,53.8 218,53.8 219,63 221,68 223,64 225,68 227,73 229,79 231,83 234,85 238,85.5 238,85.7" fill="#686868" stroke="#1a1a1a" stroke-width="0.8"/>
<polyline points="217,53.8 217.25,54.73 217.5,55.67 217.75,56.6 218,57.53 218.25,58.25 218.5,58.99 218.75,60.06 219,61.42 219.25,62.42 219.5,62.71 219.75,63.59 220,65.03 220.83,64.42 221.67,63.54 222.5,62.7 223,63.91 223.5,64.06 224,65.18 224.5,66.16 225,67.5 225.36,68.02 225.71,69.14 226.07,69.54 226.43,70.14 226.79,71.01 227.14,72.65 227.5,73.23 228,73.59 228.5,74.07 229,75.4 229.5,76.39 230,76.91 230.5,75.73 231,75.18 231.5,74.47 232,72.7 232.5,73.49 233,74.82 233.5,75.91 234,77.2 234.3,75.67 234.6,75.33 234.9,74.26 235.2,73.01 235.5,71.68 235.88,73.52 236.25,73.79 236.62,75.35 237,75.7 237.75,74.69 238.5,74.29 239.5,73.27 240.5,73.5 240.88,74 241.25,74.66 241.62,75.7 242,76.91 242.25,78.18 242.5,79.49 242.75,79.61 243,80.88 243.25,81.68 243.5,83.52 244.25,83.61 245,85 245.95,85.04 246.89,85.08 247.84,85.12 248.78,85.15 249.73,85.19 250.68,85.23 251.62,85.27 252.57,85.31 253.52,85.35 254.46,85.38 255.41,85.42 256.35,85.46 257.3,85.5" fill="none" stroke="#000" stroke-width="1.05" stroke-linejoin="round"/>
</g>
<rect x="216.5" y="56.8" width="40.8" height="28.9" fill="none" stroke="#222" stroke-width="1"/>
<line x1="216.9" y1="85.7" x2="216.9" y2="89.7" stroke="#555" stroke-width="0.7"/>
<line x1="227" y1="85.7" x2="227" y2="89.7" stroke="#555" stroke-width="0.7"/>
<line x1="237.1" y1="85.7" x2="237.1" y2="89.7" stroke="#555" stroke-width="0.7"/>
<line x1="247.2" y1="85.7" x2="247.2" y2="89.7" stroke="#555" stroke-width="0.7"/>
<line x1="257.3" y1="85.7" x2="257.3" y2="89.7" stroke="#555" stroke-width="0.7"/>
<line x1="213.5" y1="56.8" x2="216.5" y2="56.8" stroke="#555" stroke-width="0.7"/>
<line x1="213.5" y1="71.25" x2="216.5" y2="71.25" stroke="#555" stroke-width="0.7"/>
<line x1="213.5" y1="85.7" x2="216.5" y2="85.7" stroke="#555" stroke-width="0.7"/>
<text x="249" y="60.8" font-size="5.6" text-anchor="middle" font-weight="bold" font-style="normal" >32</text>
<text x="248" y="67" font-size="5.6" text-anchor="middle" font-weight="bold" font-style="normal" letter-spacing="0.22">(148)</text>
<g clip-path="url(#c14)">
<polygon points="264.3,85.7 264.3,53.8 267.5,53.8 269,66 272,73 275,78 277.5,83 281,85 285,85.5 285,85.7" fill="#686868" stroke="#1a1a1a" stroke-width="0.8"/>
<polyline points="268,53.8 268.2,54.72 268.4,55.64 268.6,56.56 268.8,57.48 269,57.91 269.2,58.84 269.4,60.12 269.6,61.6 269.8,62.5 270,63.26 270.17,64.44 270.33,65.25 270.5,65.48 270.67,66.21 270.83,67.92 271,68.6 271.17,68.71 271.33,70.29 271.5,70.87 271.71,69.86 271.93,68.81 272.14,67.64 272.36,66.45 272.57,65.76 272.79,64.84 273,64.5 273.25,64.46 273.5,66.26 273.75,66.3 274,67.34 274.25,68.73 274.5,69.6 274.75,70.05 275,70.5 275.83,71.64 276.67,72.19 277.5,73.46 278.25,72.16 279,71.85 279.42,73.27 279.83,73.15 280.25,74.4 280.67,75.68 281.08,76.46 281.5,76.49 281.92,77.32 282.33,78.19 282.75,79.96 283.17,80.07 283.58,81.44 284,82.44 284.67,82.66 285.33,83.42 286,84.5 287,84.75 288,85 289,85.25 290,85.5 290.94,85.5 291.88,85.5 292.81,85.5 293.75,85.5 294.69,85.5 295.62,85.5 296.56,85.5 297.5,85.5 298.44,85.5 299.38,85.5 300.31,85.5 301.25,85.5 302.19,85.5 303.12,85.5 304.06,85.5 305,85.5" fill="none" stroke="#000" stroke-width="1.05" stroke-linejoin="round"/>
</g>
<rect x="264.3" y="56.8" width="40.8" height="28.9" fill="none" stroke="#222" stroke-width="1"/>
<line x1="264.7" y1="85.7" x2="264.7" y2="89.7" stroke="#555" stroke-width="0.7"/>
<line x1="274.8" y1="85.7" x2="274.8" y2="89.7" stroke="#555" stroke-width="0.7"/>
<line x1="284.9" y1="85.7" x2="284.9" y2="89.7" stroke="#555" stroke-width="0.7"/>
<line x1="295" y1="85.7" x2="295" y2="89.7" stroke="#555" stroke-width="0.7"/>
<line x1="305.1" y1="85.7" x2="305.1" y2="89.7" stroke="#555" stroke-width="0.7"/>
<line x1="261.3" y1="56.8" x2="264.3" y2="56.8" stroke="#555" stroke-width="0.7"/>
<line x1="261.3" y1="71.25" x2="264.3" y2="71.25" stroke="#555" stroke-width="0.7"/>
<line x1="261.3" y1="85.7" x2="264.3" y2="85.7" stroke="#555" stroke-width="0.7"/>
<text x="299" y="63" font-size="5.6" text-anchor="middle" font-weight="bold" font-style="normal" >12</text>
<text x="297.5" y="68.7" font-size="5.6" text-anchor="middle" font-weight="bold" font-style="normal" letter-spacing="0.22">(36)</text>
<g clip-path="url(#c15)">
<polygon points="313.1,85.7 313.1,53.8 318.3,53.8 319.8,63.9 320.7,70.1 322.5,75.5 324.2,80.8 326,83.5 332,85.2 332,85.7" fill="#686868" stroke="#1a1a1a" stroke-width="0.8"/>
<polygon points="315.4,53.8 318,53.8 317.9,62 317.3,69 316.6,62" fill="#fff"/>
<polyline points="318.3,53.8 318.44,54.72 318.57,55.64 318.71,56.55 318.85,57.47 318.98,58.89 319.12,59.44 319.25,59.97 319.39,61.38 319.53,61.86 319.66,62.74 319.8,63.35 319.95,65.21 320.1,66.42 320.25,67.15 320.4,68.52 320.55,68.54 320.7,69.81 321,70.97 321.3,72.4 321.6,73.3 321.9,73.58 322.2,74.33 322.5,75.42 322.78,76.38 323.07,77.74 323.35,77.8 323.63,79.37 323.92,80.18 324.2,81.16 324.8,82 325.4,82.72 326,83.31 327,83.58 328,83.91 329,84.66 330,84.63 331,84.92 332,85.2" fill="none" stroke="#000" stroke-width="1.05" stroke-linejoin="round"/>
<polyline points="322.3,53.8 322.42,54.72 322.54,55.64 322.67,56.57 322.79,57.49 322.91,57.95 323.03,59 323.16,60.53 323.28,60.9 323.4,61.62 323.59,62.48 323.78,63.94 323.97,64.58 324.16,66.18 324.34,66.97 324.53,67.97 324.72,68.06 324.91,68.75 325.1,69.66 325.8,71 326.5,72.13 327.23,72.74 327.97,73.41 328.7,74.51 329.14,75.61 329.58,76.55 330.02,77.51 330.46,78.5 330.9,79.18 331.47,79.48 332.05,81.17 332.62,81.47 333.2,82.67 333.77,83.19 334.33,84.33 334.9,84.8 335.95,85.1 337,85.4 337.91,85.41 338.82,85.41 339.73,85.42 340.64,85.42 341.56,85.43 342.47,85.43 343.38,85.44 344.29,85.44 345.2,85.45 346.11,85.46 347.02,85.46 347.93,85.47 348.84,85.47 349.76,85.48 350.67,85.48 351.58,85.49 352.49,85.49 353.4,85.5" fill="none" stroke="#000" stroke-width="1.05" stroke-linejoin="round"/>
</g>
<rect x="313.1" y="56.8" width="40.8" height="28.9" fill="none" stroke="#222" stroke-width="1"/>
<line x1="313.5" y1="85.7" x2="313.5" y2="89.7" stroke="#555" stroke-width="0.7"/>
<line x1="323.6" y1="85.7" x2="323.6" y2="89.7" stroke="#555" stroke-width="0.7"/>
<line x1="333.7" y1="85.7" x2="333.7" y2="89.7" stroke="#555" stroke-width="0.7"/>
<line x1="343.8" y1="85.7" x2="343.8" y2="89.7" stroke="#555" stroke-width="0.7"/>
<line x1="353.9" y1="85.7" x2="353.9" y2="89.7" stroke="#555" stroke-width="0.7"/>
<line x1="310.1" y1="56.8" x2="313.1" y2="56.8" stroke="#555" stroke-width="0.7"/>
<line x1="310.1" y1="71.25" x2="313.1" y2="71.25" stroke="#555" stroke-width="0.7"/>
<line x1="310.1" y1="85.7" x2="313.1" y2="85.7" stroke="#555" stroke-width="0.7"/>
<text x="346" y="61.2" font-size="5.6" text-anchor="middle" font-weight="bold" font-style="normal" >12</text>
<text x="345.5" y="67.2" font-size="5.6" text-anchor="middle" font-weight="bold" font-style="normal" letter-spacing="0.22">(24)</text>
<g clip-path="url(#c16)">
<polygon points="361.2,85.7 361.2,53.8 363,53.8 365,63 368,68 371,74 373.5,80 376,83 380,85 384,85.5 384,85.7" fill="#686868" stroke="#1a1a1a" stroke-width="0.8"/>
<polyline points="362,83.17 363,82.97 364,82.72 365,82.37 366,82.92 367,82.34 368,81.81 368.83,81.47 369.67,81.71 370.5,80.76 371.33,80.04 372.17,80.26 373,79.67 373.75,79.42 374.5,77.81 375.25,77.6 376,77.35 376.36,76.52 376.71,75.74 377.07,73.92 377.43,73.34 377.79,72.3 378.14,71.52 378.5,71.52 378.67,70.2 378.83,69.7 379,68.19 379.17,67.85 379.33,66.5 379.5,65.4 379.67,65.08 379.83,64.38 380,62.57 380.08,62.11 380.17,61.13 380.25,59.69 380.33,58.86 380.42,57.61 380.5,57 380.57,55.93 380.63,54.87 380.7,53.8 381.62,53.8 382.54,53.8 383.46,53.8 384.38,53.8 385.3,53.8 385.37,54.87 385.43,55.93 385.5,57 385.54,57.59 385.58,58.56 385.62,59.86 385.67,60.83 385.71,61.26 385.75,61.96 385.79,63.23 385.83,64.53 385.88,64.9 385.92,65.96 385.96,66.76 386,68.32 386.2,68.95 386.4,69.32 386.6,70.26 386.8,71.48 387,72.56 387.2,73.55 387.4,73.85 387.6,74.83 387.8,76.31 388,76.9 388.29,77.62 388.57,78.5 388.86,80.07 389.14,80.22 389.43,81.36 389.71,81.99 390,82.91 390.75,83.9 391.5,84.55 392.25,84.5 393,85 393.98,85.06 394.96,85.11 395.93,85.17 396.91,85.22 397.89,85.28 398.87,85.33 399.84,85.39 400.82,85.44 401.8,85.5" fill="none" stroke="#000" stroke-width="1.05" stroke-linejoin="round"/>
</g>
<rect x="361.2" y="56.8" width="40.8" height="28.9" fill="none" stroke="#222" stroke-width="1"/>
<line x1="361.6" y1="85.7" x2="361.6" y2="89.7" stroke="#555" stroke-width="0.7"/>
<line x1="371.7" y1="85.7" x2="371.7" y2="89.7" stroke="#555" stroke-width="0.7"/>
<line x1="381.8" y1="85.7" x2="381.8" y2="89.7" stroke="#555" stroke-width="0.7"/>
<line x1="391.9" y1="85.7" x2="391.9" y2="89.7" stroke="#555" stroke-width="0.7"/>
<line x1="402" y1="85.7" x2="402" y2="89.7" stroke="#555" stroke-width="0.7"/>
<line x1="358.2" y1="56.8" x2="361.2" y2="56.8" stroke="#555" stroke-width="0.7"/>
<line x1="358.2" y1="71.25" x2="361.2" y2="71.25" stroke="#555" stroke-width="0.7"/>
<line x1="358.2" y1="85.7" x2="361.2" y2="85.7" stroke="#555" stroke-width="0.7"/>
<text x="394" y="62.5" font-size="5.6" text-anchor="middle" font-weight="bold" font-style="normal" >86</text>
<text x="393.5" y="68.2" font-size="5.6" text-anchor="middle" font-weight="bold" font-style="normal" letter-spacing="0.22">(144)</text>
<g clip-path="url(#c17)">
<polygon points="409.3,85.7 409.3,53.8 411,53.8 412.5,63 414,71 416,68 417.5,73 420,77 422,82 425,85 429,85.5 429,85.7" fill="#686868" stroke="#1a1a1a" stroke-width="0.8"/>
<polyline points="410,83.85 410.8,83.07 411.6,83.05 412.4,81.87 413.2,81.06 414,81.44 414.38,80.04 414.75,79.6 415.12,78.27 415.5,77.92 415.88,76.58 416.25,75.38 416.62,74.34 417,74.06 417.2,73.25 417.4,72.65 417.6,70.85 417.8,70.53 418,69.36 418.2,68.6 418.4,67.31 418.6,66.56 418.8,65.92 419,65.47 419.12,63.57 419.25,62.99 419.38,62.34 419.5,61.51 419.62,59.67 419.75,58.59 419.88,58.49 420,57 420.07,55.93 420.13,54.87 420.2,53.8 421.16,53.8 422.12,53.8 423.08,53.8 424.04,53.8 425,53.8 425.08,54.83 425.17,55.87 425.25,56.9 425.33,58.46 425.42,58.95 425.5,59.51 425.67,59.44 425.83,57.81 426,56.9 426.17,55.87 426.33,54.83 426.5,53.8 427,53.8 427.07,54.87 427.13,55.93 427.2,57 427.33,58.44 427.47,59.13 427.6,60.36 427.73,60.63 427.87,62.31 428,62.69 428.17,63.78 428.33,65.16 428.5,66.03 428.67,66.21 428.83,67.13 429,68.22 429.17,69.24 429.33,69.98 429.5,70.59 429.75,71.6 430,73 430.25,74.06 430.5,74 430.75,75.44 431,76.53 431.25,76.62 431.5,78.37 431.92,78.41 432.33,79.78 432.75,80.56 433.17,81.47 433.58,81.95 434,82.91 434.75,83.59 435.5,83.92 436.25,84.5 437,85 437.93,85.04 438.86,85.07 439.79,85.11 440.71,85.14 441.64,85.18 442.57,85.21 443.5,85.25 444.43,85.29 445.36,85.32 446.29,85.36 447.21,85.39 448.14,85.43 449.07,85.46 450,85.5" fill="none" stroke="#000" stroke-width="1.05" stroke-linejoin="round"/>
</g>
<rect x="409.3" y="56.8" width="40.8" height="28.9" fill="none" stroke="#222" stroke-width="1"/>
<line x1="409.7" y1="85.7" x2="409.7" y2="89.7" stroke="#555" stroke-width="0.7"/>
<line x1="419.8" y1="85.7" x2="419.8" y2="89.7" stroke="#555" stroke-width="0.7"/>
<line x1="429.9" y1="85.7" x2="429.9" y2="89.7" stroke="#555" stroke-width="0.7"/>
<line x1="440" y1="85.7" x2="440" y2="89.7" stroke="#555" stroke-width="0.7"/>
<line x1="450.1" y1="85.7" x2="450.1" y2="89.7" stroke="#555" stroke-width="0.7"/>
<line x1="406.3" y1="56.8" x2="409.3" y2="56.8" stroke="#555" stroke-width="0.7"/>
<line x1="406.3" y1="71.25" x2="409.3" y2="71.25" stroke="#555" stroke-width="0.7"/>
<line x1="406.3" y1="85.7" x2="409.3" y2="85.7" stroke="#555" stroke-width="0.7"/>
<text x="444" y="63.2" font-size="5.6" text-anchor="middle" font-weight="bold" font-style="normal" >38</text>
<text x="443" y="68.7" font-size="5.6" text-anchor="middle" font-weight="bold" font-style="normal" letter-spacing="0.22">(40)</text>
<g clip-path="url(#c20)">
<polygon points="70.2,121.55 70.2,90.2 74.6,90.2 75.3,99.2 76.4,107.4 77.8,113.6 79.6,118.7 82.6,121.3 86.6,121.8 86.6,121.55" fill="#686868" stroke="#1a1a1a" stroke-width="0.8"/>
<polyline points="70.7,121.8 71.33,121.03 71.95,120.42 72.58,119.42 73.2,118.63 73.55,117.33 73.9,117.13 74.25,116.14 74.6,115.01 74.95,114.74 75.3,113.91 75.59,112.67 75.87,111.48 76.16,110.91 76.44,109.62 76.73,108.76 77.01,108.21 77.3,106.95 77.72,106.52 78.14,105.77 78.56,104.43 78.98,104.27 79.4,102.84 80.07,102.89 80.73,102.27 81.4,101.31 81.55,99.78 81.7,99.25 81.85,98.09 82,97.7 82.17,97.82 82.33,99.63 82.5,100.8 82.67,101.52 82.83,102.63 83,102.96 83.5,104.86 84,105.36 84.5,106.9 84.8,107.88 85.1,108.07 85.4,109.78 85.7,110.95 86,111.02 86.53,110.34 87.07,109.78 87.6,108.12 88.35,109.94 89.1,110.25 89.8,111.55 90.5,111.51 91.2,112.6 92.03,113.56 92.87,113.28 93.7,113.84 94.75,114.86 95.8,115.4 96.42,115.87 97.05,116.8 97.67,117.55 98.3,119.18 98.95,119.67 99.6,120.68 100.25,121.03 100.9,121.8 101.85,121.82 102.79,121.84 103.74,121.85 104.68,121.87 105.63,121.89 106.57,121.91 107.52,121.93 108.46,121.95 109.41,121.96 110.35,121.98 111.3,122" fill="none" stroke="#000" stroke-width="1.05" stroke-linejoin="round"/>
</g>
<rect x="70.2" y="93.2" width="40.8" height="28.35" fill="none" stroke="#222" stroke-width="1"/>
<line x1="70.6" y1="121.55" x2="70.6" y2="125.55" stroke="#555" stroke-width="0.7"/>
<line x1="80.7" y1="121.55" x2="80.7" y2="125.55" stroke="#555" stroke-width="0.7"/>
<line x1="90.8" y1="121.55" x2="90.8" y2="125.55" stroke="#555" stroke-width="0.7"/>
<line x1="100.9" y1="121.55" x2="100.9" y2="125.55" stroke="#555" stroke-width="0.7"/>
<line x1="111" y1="121.55" x2="111" y2="125.55" stroke="#555" stroke-width="0.7"/>
<line x1="67.2" y1="93.2" x2="70.2" y2="93.2" stroke="#555" stroke-width="0.7"/>
<line x1="67.2" y1="107.38" x2="70.2" y2="107.38" stroke="#555" stroke-width="0.7"/>
<line x1="67.2" y1="121.55" x2="70.2" y2="121.55" stroke="#555" stroke-width="0.7"/>
<text x="100.4" y="98.9" font-size="5.6" text-anchor="middle" font-weight="bold" font-style="normal" >58</text>
<text x="101.4" y="104.6" font-size="5.6" text-anchor="middle" font-weight="bold" font-style="normal" letter-spacing="0.22">(94)</text>
<g clip-path="url(#c21)">
<polygon points="119,121.55 119,90.2 123.8,90.2 124.8,101.3 126.3,109.5 128.4,115.6 131,119.7 133.5,121.6 137,122 137,121.55" fill="#686868" stroke="#1a1a1a" stroke-width="0.8"/>
<polyline points="119.7,119.34 119.9,118.99 120.1,117.24 120.3,116.67 120.5,115.77 120.7,114.45 120.93,114.08 121.15,112.81 121.38,111.91 121.61,111.31 121.84,109.53 122.06,109.58 122.29,108.25 122.52,107.07 122.75,106.58 122.97,105.07 123.2,104.94 123.47,103.62 123.73,102.51 124,102.09 124.27,100.87 124.53,99.71 124.8,99.47 125.2,97.88 125.6,97.91 126,96.47 126.4,96.07 126.8,95.63 127.03,96.08 127.26,97.05 127.49,97.55 127.71,98.09 127.94,99.02 128.17,100.03 128.4,101.43 128.63,102.1 128.86,103.06 129.09,104.35 129.31,104.38 129.54,105.36 129.77,106.7 130,106.87 130.7,107.9 131.4,109.34 132.45,108.32 133.5,107.84 134,106.83 134.5,106.36 135,105.5 135.33,106.11 135.67,107.6 136,108.47 136.2,108.99 136.4,110.76 136.6,110.88 136.8,111.66 137,112.49 137.2,113.98 137.4,115.12 137.6,115.91 137.93,116.36 138.27,117.07 138.6,117.66 138.93,119.23 139.27,120 139.6,120.8 140.65,121.3 141.7,121.8 142.6,121.81 143.51,121.82 144.41,121.83 145.32,121.84 146.22,121.85 147.13,121.86 148.03,121.87 148.94,121.88 149.84,121.89 150.75,121.9 151.66,121.91 152.56,121.92 153.47,121.93 154.37,121.94 155.28,121.95 156.18,121.96 157.09,121.97 157.99,121.98 158.9,121.99 159.8,122" fill="none" stroke="#000" stroke-width="1.05" stroke-linejoin="round"/>
</g>
<rect x="119" y="93.2" width="40.8" height="28.35" fill="none" stroke="#222" stroke-width="1"/>
<line x1="119.4" y1="121.55" x2="119.4" y2="125.55" stroke="#555" stroke-width="0.7"/>
<line x1="129.5" y1="121.55" x2="129.5" y2="125.55" stroke="#555" stroke-width="0.7"/>
<line x1="139.6" y1="121.55" x2="139.6" y2="125.55" stroke="#555" stroke-width="0.7"/>
<line x1="149.7" y1="121.55" x2="149.7" y2="125.55" stroke="#555" stroke-width="0.7"/>
<line x1="159.8" y1="121.55" x2="159.8" y2="125.55" stroke="#555" stroke-width="0.7"/>
<line x1="116" y1="93.2" x2="119" y2="93.2" stroke="#555" stroke-width="0.7"/>
<line x1="116" y1="107.38" x2="119" y2="107.38" stroke="#555" stroke-width="0.7"/>
<line x1="116" y1="121.55" x2="119" y2="121.55" stroke="#555" stroke-width="0.7"/>
<text x="148.9" y="100.3" font-size="5.6" text-anchor="middle" font-weight="bold" font-style="normal" >32</text>
<text x="149.7" y="106.5" font-size="5.6" text-anchor="middle" font-weight="bold" font-style="normal" letter-spacing="0.22">(38)</text>
<g clip-path="url(#c22)">
<polygon points="167.8,121.55 167.8,90.2 172.8,90.2 173.8,99.2 175.3,107.4 176.9,113.6 178.9,118.7 181.5,121.6 185,122 185,121.55" fill="#686868" stroke="#1a1a1a" stroke-width="0.8"/>
<polyline points="173.3,90.2 173.43,91.15 173.57,92.09 173.7,93.04 173.83,93.99 173.97,94.77 174.1,96.04 174.23,96.76 174.37,98.25 174.5,98.98 174.63,99.39 174.77,101.06 174.9,101.06 175.03,102.54 175.17,103.35 175.3,104.11 175.58,104.84 175.86,106.56 176.15,106.65 176.43,108.17 176.71,109.52 176.99,109.57 177.27,110.56 177.55,111.94 177.84,112.75 178.12,113.83 178.4,114.94 178.83,115.09 179.27,116.09 179.7,116.93 180.13,117.5 180.57,119.28 181,120.01 182,119.44 183,118.16 183.52,118.26 184.04,117.33 184.56,116.2 185.08,115.69 185.6,114.55 186.02,113.45 186.43,112.47 186.85,111.76 187.27,110.69 187.68,110.17 188.1,109.77 188.5,108.69 188.9,107.83 189.3,106.66 189.7,105.14 189.87,104.55 190.03,103.51 190.2,102.98 190.37,101.78 190.53,100.59 190.7,100.09 190.87,99.53 191.03,97.8 191.2,97.62 191.57,95.74 191.95,95.09 192.32,94.13 192.7,93.5 192.8,92.4 192.9,91.3 193,90.2 194.15,90.2 195.3,90.2 195.37,91.3 195.43,92.4 195.5,93.5 195.72,94.72 195.93,95.89 196.15,96.62 196.37,97.11 196.58,98.67 196.8,99.01 196.92,99.86 197.05,101.54 197.17,102.18 197.29,103.2 197.42,104.11 197.54,105.4 197.66,105.79 197.78,107.14 197.91,107.93 198.03,109.05 198.15,109.54 198.28,110.8 198.4,111.58 198.59,112.25 198.78,113.11 198.96,114.52 199.15,114.89 199.34,116.76 199.53,116.88 199.71,117.72 199.9,118.77 200.68,120.27 201.45,120.4 202.22,121 203,121.6 203.93,121.67 204.87,121.73 205.8,121.8 206.73,121.87 207.67,121.93 208.6,122" fill="none" stroke="#000" stroke-width="1.05" stroke-linejoin="round"/>
</g>
<rect x="167.8" y="93.2" width="40.8" height="28.35" fill="none" stroke="#222" stroke-width="1"/>
<line x1="168.2" y1="121.55" x2="168.2" y2="125.55" stroke="#555" stroke-width="0.7"/>
<line x1="178.3" y1="121.55" x2="178.3" y2="125.55" stroke="#555" stroke-width="0.7"/>
<line x1="188.4" y1="121.55" x2="188.4" y2="125.55" stroke="#555" stroke-width="0.7"/>
<line x1="198.5" y1="121.55" x2="198.5" y2="125.55" stroke="#555" stroke-width="0.7"/>
<line x1="208.6" y1="121.55" x2="208.6" y2="125.55" stroke="#555" stroke-width="0.7"/>
<line x1="164.8" y1="93.2" x2="167.8" y2="93.2" stroke="#555" stroke-width="0.7"/>
<line x1="164.8" y1="107.38" x2="167.8" y2="107.38" stroke="#555" stroke-width="0.7"/>
<line x1="164.8" y1="121.55" x2="167.8" y2="121.55" stroke="#555" stroke-width="0.7"/>
<text x="182.5" y="99.4" font-size="5.6" text-anchor="middle" font-weight="bold" font-style="normal" >97</text>
<text x="182" y="105.5" font-size="5.6" text-anchor="middle" font-weight="bold" font-style="normal" letter-spacing="0.22">(303)</text>
<g clip-path="url(#c23)">
<polygon points="216.5,121.55 216.5,90.2 222.3,90.2 223.3,101.3 224.8,109.5 226.4,115.6 228.4,119.7 231.5,121.3 235,122 235,121.55" fill="#686868" stroke="#1a1a1a" stroke-width="0.8"/>
<polyline points="222.3,121 223.33,120.67 224.35,120.18 225.38,119.63 226.4,119.18 227.15,118.7 227.9,118.91 228.65,118.35 229.4,117.92 229.83,117.11 230.27,115.52 230.7,115.25 231.13,114.15 231.57,113.8 232,112.95 232.33,112.16 232.67,110.39 233,110.4 233.33,109.59 233.67,108.76 234,106.97 234.4,106.05 234.8,104.92 235.2,103.81 235.6,103.68 236.1,104.69 236.6,105.55 236.92,104.74 237.24,103.5 237.56,102.11 237.88,100.88 238.2,99.86 238.57,99.56 238.95,97.93 239.32,97.03 239.7,96.12 240.2,94.77 240.7,94.13 241.2,93.5 241.3,92.4 241.4,91.3 241.5,90.2 242,90.2 242.06,91.18 242.12,92.16 242.18,93.14 242.24,93.88 242.3,95.34 242.4,95.88 242.5,96.76 242.6,98.4 242.7,98.82 242.8,100.14 242.9,100.81 243,101.09 243.1,102.44 243.2,103.4 243.3,104.7 243.39,105.16 243.48,106.48 243.57,107.22 243.66,107.8 243.75,109.43 243.85,109.51 243.94,111.24 244.03,111.46 244.12,112.2 244.21,113.34 244.3,114.89 244.6,116.15 244.9,116.09 245.2,117.65 245.5,118.67 245.8,120.03 246.5,119.99 247.2,120.97 247.9,121.6 248.84,121.64 249.78,121.68 250.72,121.72 251.66,121.76 252.6,121.8 253.54,121.84 254.48,121.88 255.42,121.92 256.36,121.96 257.3,122" fill="none" stroke="#000" stroke-width="1.05" stroke-linejoin="round"/>
</g>
<rect x="216.5" y="93.2" width="40.8" height="28.35" fill="none" stroke="#222" stroke-width="1"/>
<line x1="216.9" y1="121.55" x2="216.9" y2="125.55" stroke="#555" stroke-width="0.7"/>
<line x1="227" y1="121.55" x2="227" y2="125.55" stroke="#555" stroke-width="0.7"/>
<line x1="237.1" y1="121.55" x2="237.1" y2="125.55" stroke="#555" stroke-width="0.7"/>
<line x1="247.2" y1="121.55" x2="247.2" y2="125.55" stroke="#555" stroke-width="0.7"/>
<line x1="257.3" y1="121.55" x2="257.3" y2="125.55" stroke="#555" stroke-width="0.7"/>
<line x1="213.5" y1="93.2" x2="216.5" y2="93.2" stroke="#555" stroke-width="0.7"/>
<line x1="213.5" y1="107.38" x2="216.5" y2="107.38" stroke="#555" stroke-width="0.7"/>
<line x1="213.5" y1="121.55" x2="216.5" y2="121.55" stroke="#555" stroke-width="0.7"/>
<text x="248.4" y="98.4" font-size="5.6" text-anchor="middle" font-weight="bold" font-style="normal" >95</text>
<text x="248.4" y="105" font-size="5.6" text-anchor="middle" font-weight="bold" font-style="normal" letter-spacing="0.22">(215)</text>
<g clip-path="url(#c24)">
<polygon points="264.3,121.55 264.3,90.2 270.3,90.2 271.3,103.3 272.8,111.5 274.4,116.7 276.9,120.3 280.5,121.6 284,122 284,121.55" fill="#686868" stroke="#1a1a1a" stroke-width="0.8"/>
<polyline points="265.1,120.8 265.88,120.02 266.65,119.08 267.43,118.84 268.2,117.44 268.63,117.34 269.07,115.76 269.5,114.84 269.93,114.52 270.37,113.45 270.8,112.17 271.3,111.98 271.8,110.59 272.3,110.59 272.8,109.72 273.45,109.04 274.1,108.09 274.75,107.02 275.4,106.29 276.15,107.33 276.9,108.93 277.7,108.54 278.5,109.93 279.25,109.48 280,110.18 280.75,109.24 281.5,108.94 282.03,107.47 282.57,106.3 283.1,105.82 283.35,104.08 283.6,103.31 283.85,102.36 284.1,101.58 284.35,100.55 284.6,99.41 284.85,98.06 285.1,97.01 285.47,95.72 285.83,95.38 286.2,93.9 286.45,95.15 286.7,96.32 286.95,96.76 287.2,98.13 287.32,99.44 287.45,100.17 287.57,100.61 287.7,101.92 287.82,103.33 287.95,103.56 288.07,104.45 288.2,105.51 288.32,106.9 288.45,107.99 288.57,108.18 288.7,109.12 288.88,110.13 289.06,111.13 289.23,112.26 289.41,112.77 289.59,113.87 289.77,114.62 289.94,116.4 290.12,117.04 290.3,117.26 290.8,119.24 291.3,119.33 291.8,120.8 292.87,121.13 293.93,121.47 295,121.8 295.91,121.82 296.82,121.84 297.73,121.85 298.64,121.87 299.55,121.89 300.45,121.91 301.36,121.93 302.27,121.95 303.18,121.96 304.09,121.98 305,122" fill="none" stroke="#000" stroke-width="1.05" stroke-linejoin="round"/>
</g>
<rect x="264.3" y="93.2" width="40.8" height="28.35" fill="none" stroke="#222" stroke-width="1"/>
<line x1="264.7" y1="121.55" x2="264.7" y2="125.55" stroke="#555" stroke-width="0.7"/>
<line x1="274.8" y1="121.55" x2="274.8" y2="125.55" stroke="#555" stroke-width="0.7"/>
<line x1="284.9" y1="121.55" x2="284.9" y2="125.55" stroke="#555" stroke-width="0.7"/>
<line x1="295" y1="121.55" x2="295" y2="125.55" stroke="#555" stroke-width="0.7"/>
<line x1="305.1" y1="121.55" x2="305.1" y2="125.55" stroke="#555" stroke-width="0.7"/>
<line x1="261.3" y1="93.2" x2="264.3" y2="93.2" stroke="#555" stroke-width="0.7"/>
<line x1="261.3" y1="107.38" x2="264.3" y2="107.38" stroke="#555" stroke-width="0.7"/>
<line x1="261.3" y1="121.55" x2="264.3" y2="121.55" stroke="#555" stroke-width="0.7"/>
<text x="295.4" y="98.4" font-size="5.6" text-anchor="middle" font-weight="bold" font-style="normal" >74</text>
<text x="295.9" y="104.6" font-size="5.6" text-anchor="middle" font-weight="bold" font-style="normal" letter-spacing="0.22">(112)</text>
<g clip-path="url(#c25)">
<polygon points="313.1,121.55 313.1,90.2 317.7,90.2 318.8,99.2 320.3,107.4 322.3,114.6 324.4,119.7 327.5,121.6 331,122 331,121.55" fill="#686868" stroke="#1a1a1a" stroke-width="0.8"/>
<polyline points="313.1,120.8 313.43,119.77 313.75,119.53 314.07,118.42 314.4,117.46 314.73,116.23 315.05,115.07 315.38,114.65 315.7,113.17 315.99,112.39 316.27,111.71 316.56,110.43 316.84,109.95 317.13,109.49 317.41,108.5 317.7,107.4 318.1,106.52 318.5,105.31 318.9,103.93 319.3,103.41 320.05,102.7 320.8,102.57 321.1,101.73 321.4,100.18 321.7,99.32 322,98.49 322.3,97.11 322.57,97.93 322.85,99.49 323.12,100.69 323.4,101.6 323.9,102.52 324.4,103.69 324.7,102.48 325,101.42 325.3,100.19 325.6,99.01 325.9,98.34 327,96.76 327.25,98.14 327.5,99.56 327.75,100.51 328,101.44 328.25,102.04 328.5,103.25 328.75,104.3 329,105.5 329.25,106.28 329.5,107.59 329.7,108.77 329.9,108.85 330.1,110.27 330.3,111.31 330.5,111.78 330.7,112.79 330.9,114.22 331.1,114.09 331.48,115.67 331.85,116.28 332.23,117.98 332.6,119.18 333.27,119.59 333.93,120.43 334.6,121.3 335.73,121.47 336.87,121.63 338,121.8 338.91,121.81 339.81,121.82 340.72,121.84 341.62,121.85 342.53,121.86 343.44,121.87 344.34,121.88 345.25,121.89 346.15,121.91 347.06,121.92 347.96,121.93 348.87,121.94 349.78,121.95 350.68,121.96 351.59,121.98 352.49,121.99 353.4,122" fill="none" stroke="#000" stroke-width="1.05" stroke-linejoin="round"/>
</g>
<rect x="313.1" y="93.2" width="40.8" height="28.35" fill="none" stroke="#222" stroke-width="1"/>
<line x1="313.5" y1="121.55" x2="313.5" y2="125.55" stroke="#555" stroke-width="0.7"/>
<line x1="323.6" y1="121.55" x2="323.6" y2="125.55" stroke="#555" stroke-width="0.7"/>
<line x1="333.7" y1="121.55" x2="333.7" y2="125.55" stroke="#555" stroke-width="0.7"/>
<line x1="343.8" y1="121.55" x2="343.8" y2="125.55" stroke="#555" stroke-width="0.7"/>
<line x1="353.9" y1="121.55" x2="353.9" y2="125.55" stroke="#555" stroke-width="0.7"/>
<line x1="310.1" y1="93.2" x2="313.1" y2="93.2" stroke="#555" stroke-width="0.7"/>
<line x1="310.1" y1="107.38" x2="313.1" y2="107.38" stroke="#555" stroke-width="0.7"/>
<line x1="310.1" y1="121.55" x2="313.1" y2="121.55" stroke="#555" stroke-width="0.7"/>
<text x="341.8" y="99.4" font-size="5.6" text-anchor="middle" font-weight="bold" font-style="normal" >42</text>
<text x="342.8" y="105.5" font-size="5.6" text-anchor="middle" font-weight="bold" font-style="normal" letter-spacing="0.22">(36)</text>
<g clip-path="url(#c26)">
<polygon points="361.2,121.55 361.2,90.2 366.2,90.2 367.3,101.3 368.8,109.5 370.3,115.6 372.4,119.7 375,121.3 379,122 379,121.55" fill="#686868" stroke="#1a1a1a" stroke-width="0.8"/>
<polyline points="366.2,90.2 366.34,91.15 366.48,92.09 366.62,93.04 366.76,93.99 366.9,94.49 367.04,95.96 367.18,96.87 367.32,98.01 367.46,98.73 367.6,99.82 367.74,100.98 367.88,101.58 368.02,102.41 368.16,103.95 368.3,104.08 368.56,105.52 368.82,106.12 369.08,107.45 369.34,107.66 369.6,109.53 369.86,109.76 370.12,110.35 370.38,111.51 370.64,112.57 370.9,113.06 371.32,114.36 371.73,115.21 372.15,116.37 372.57,116.84 372.98,117.59 373.4,118.4 374.27,119.5 375.13,120.25 376,120.33 376.83,119.46 377.67,119.56 378.5,118.58 379.12,117.56 379.74,116.65 380.36,116.54 380.98,115.76 381.6,114.75 382.03,113.72 382.47,112.97 382.9,111.75 383.33,111.71 383.77,110.19 384.2,109.65 384.53,109 384.87,108.15 385.2,106.91 385.53,105.87 385.87,105.3 386.2,103.99 387,103.72 387.8,102.14 388.47,102.02 389.13,100.71 389.8,100.16 390.55,100.53 391.3,101.22 391.83,99.92 392.37,98.69 392.9,98.44 393.65,96.96 394.4,95.92 394.9,94.83 395.4,93.9 395.54,94.8 395.67,95.67 395.81,96.83 395.95,97.78 396.09,98.37 396.23,99.92 396.36,100.76 396.5,100.81 396.58,102.6 396.67,103.63 396.75,104.44 396.83,104.67 396.92,106.37 397,107.1 397.08,107.36 397.17,108.3 397.25,110.27 397.33,110.89 397.42,111.38 397.5,112.16 397.75,113.22 398,114.34 398.25,115.95 398.5,116.5 398.75,117.3 399,119.14 399.7,119.99 400.4,120.63 401.1,121.6" fill="none" stroke="#000" stroke-width="1.05" stroke-linejoin="round"/>
</g>
<rect x="361.2" y="93.2" width="40.8" height="28.35" fill="none" stroke="#222" stroke-width="1"/>
<line x1="361.6" y1="121.55" x2="361.6" y2="125.55" stroke="#555" stroke-width="0.7"/>
<line x1="371.7" y1="121.55" x2="371.7" y2="125.55" stroke="#555" stroke-width="0.7"/>
<line x1="381.8" y1="121.55" x2="381.8" y2="125.55" stroke="#555" stroke-width="0.7"/>
<line x1="391.9" y1="121.55" x2="391.9" y2="125.55" stroke="#555" stroke-width="0.7"/>
<line x1="402" y1="121.55" x2="402" y2="125.55" stroke="#555" stroke-width="0.7"/>
<line x1="358.2" y1="93.2" x2="361.2" y2="93.2" stroke="#555" stroke-width="0.7"/>
<line x1="358.2" y1="107.38" x2="361.2" y2="107.38" stroke="#555" stroke-width="0.7"/>
<line x1="358.2" y1="121.55" x2="361.2" y2="121.55" stroke="#555" stroke-width="0.7"/>
<text x="377" y="98.9" font-size="5.6" text-anchor="middle" font-weight="bold" font-style="normal" >98</text>
<text x="376.5" y="105" font-size="5.6" text-anchor="middle" font-weight="bold" font-style="normal" letter-spacing="0.22">(641)</text>
<g clip-path="url(#c27)">
<polygon points="409.3,121.55 409.3,90.2 414.8,90.2 415.8,101.3 417.3,109.5 418.9,115.6 420.9,119.7 424,121.6 428,122 428,121.55" fill="#686868" stroke="#1a1a1a" stroke-width="0.8"/>
<polyline points="412.2,121.6 412.98,120.88 413.75,119.78 414.52,119.86 415.3,118.82 415.61,118.11 415.93,117.09 416.24,116.43 416.55,115.42 416.86,114.57 417.18,112.97 417.49,112.61 417.8,111.53 418.45,111.02 419.1,109.93 419.75,109.67 420.4,108.56 421.4,107.69 422.4,107.11 422.93,106 423.47,105.39 424,103.91 424.2,103.32 424.4,101.93 424.6,101.27 424.8,100.24 425,99.24 425.25,98.57 425.5,96.61 425.75,96.5 426,95.06 426.55,94.37 427.1,93.5 427.17,92.4 427.23,91.3 427.3,90.2 428.4,90.2 428.47,91.3 428.53,92.4 428.6,93.5 428.77,94.63 428.93,95.77 429.1,96.21 429.27,97.21 429.43,98.76 429.6,98.73 429.78,100.26 429.96,101.17 430.13,101.41 430.31,102.97 430.49,103.96 430.67,105.14 430.84,105.39 431.02,107.02 431.2,107.41 431.39,108.28 431.57,109.64 431.76,109.59 431.95,111.24 432.14,112.04 432.32,112.62 432.51,114.1 432.7,114.45 433,115.59 433.3,116.67 433.6,117.96 433.9,118.36 434.2,119.63 435.07,120.25 435.93,120.97 436.8,121.6 437.74,121.63 438.69,121.66 439.63,121.69 440.57,121.71 441.51,121.74 442.46,121.77 443.4,121.8 444.34,121.83 445.29,121.86 446.23,121.89 447.17,121.91 448.11,121.94 449.06,121.97 450,122" fill="none" stroke="#000" stroke-width="1.05" stroke-linejoin="round"/>
</g>
<rect x="409.3" y="93.2" width="40.8" height="28.35" fill="none" stroke="#222" stroke-width="1"/>
<line x1="409.7" y1="121.55" x2="409.7" y2="125.55" stroke="#555" stroke-width="0.7"/>
<line x1="419.8" y1="121.55" x2="419.8" y2="125.55" stroke="#555" stroke-width="0.7"/>
<line x1="429.9" y1="121.55" x2="429.9" y2="125.55" stroke="#555" stroke-width="0.7"/>
<line x1="440" y1="121.55" x2="440" y2="125.55" stroke="#555" stroke-width="0.7"/>
<line x1="450.1" y1="121.55" x2="450.1" y2="125.55" stroke="#555" stroke-width="0.7"/>
<line x1="406.3" y1="93.2" x2="409.3" y2="93.2" stroke="#555" stroke-width="0.7"/>
<line x1="406.3" y1="107.38" x2="409.3" y2="107.38" stroke="#555" stroke-width="0.7"/>
<line x1="406.3" y1="121.55" x2="409.3" y2="121.55" stroke="#555" stroke-width="0.7"/>
<text x="439.3" y="98.9" font-size="5.6" text-anchor="middle" font-weight="bold" font-style="normal" >86</text>
<text x="439.9" y="105" font-size="5.6" text-anchor="middle" font-weight="bold" font-style="normal" letter-spacing="0.22">(70)</text>
<text x="0" y="0" font-size="6.6" text-anchor="middle" font-weight="bold" font-style="normal" transform="translate(90.7,12.9) scale(0.93,1)" >CD1a</text>
<text x="0" y="0" font-size="6.6" text-anchor="middle" font-weight="bold" font-style="normal" transform="translate(138.5,12.9) scale(0.93,1)" >CD83</text>
<text x="0" y="0" font-size="6.6" text-anchor="middle" font-weight="bold" font-style="normal" transform="translate(187.3,12.9) scale(0.93,1)" >CD11c</text>
<text x="0" y="0" font-size="6.6" text-anchor="middle" font-weight="bold" font-style="normal" transform="translate(235.7,12.9) scale(0.93,1)" >HLA-DR</text>
<text x="0" y="0" font-size="6.6" text-anchor="middle" font-weight="bold" font-style="normal" transform="translate(283.5,12.9) scale(0.93,1)" >CD86</text>
<text x="0" y="0" font-size="6.6" text-anchor="middle" font-weight="bold" font-style="normal" transform="translate(331.3,12.9) scale(0.93,1)" >CD80</text>
<text x="0" y="0" font-size="6.6" text-anchor="middle" font-weight="bold" font-style="normal" transform="translate(381,12.9) scale(0.93,1)" >CD40</text>
<text x="0" y="0" font-size="6.6" text-anchor="middle" font-weight="bold" font-style="normal" transform="translate(426.8,12.9) scale(0.93,1)" >CD95</text>
<text x="6" y="37.6" font-size="6.7" text-anchor="start" font-weight="bold" font-style="normal" >Healthy Donor</text>
<text x="6" y="73.6" font-size="6.7" text-anchor="start" font-weight="bold" font-style="normal" >CVID Patient (1)</text>
<text x="6" y="107.2" font-size="6.7" text-anchor="start" font-weight="bold" font-style="normal" >IgG4 deficient</text>
<text x="6" y="113.8" font-size="6.7" text-anchor="start" font-weight="bold" font-style="normal" >Patient</text>
<text x="0" y="0" font-size="16.3" text-anchor="start" font-weight="bold" font-style="normal" transform="translate(0.5,12.5) scale(1.1,1)" >A</text>
<text x="0.5" y="143.2" font-size="16.3" text-anchor="start" font-weight="bold" font-style="normal" >B</text>
<text x="295.2" y="143.3" font-size="16.3" text-anchor="start" font-weight="bold" font-style="normal" >C</text>
<line x1="28.8" y1="166.5" x2="28.8" y2="327.2" stroke="#222" stroke-width="1.1"/>
<line x1="28.8" y1="324" x2="276.8" y2="324" stroke="#222" stroke-width="1.1"/>
<line x1="26.6" y1="324" x2="28.8" y2="324" stroke="#444" stroke-width="0.8"/>
<text x="22" y="326.6" font-size="8.4" text-anchor="end" font-weight="bold" font-style="normal" >0</text>
<line x1="26.6" y1="292.5" x2="28.8" y2="292.5" stroke="#444" stroke-width="0.8"/>
<text x="22" y="295.1" font-size="8.4" text-anchor="end" font-weight="bold" font-style="normal" >20</text>
<line x1="26.6" y1="261" x2="28.8" y2="261" stroke="#444" stroke-width="0.8"/>
<text x="22" y="263.6" font-size="8.4" text-anchor="end" font-weight="bold" font-style="normal" >40</text>
<line x1="26.6" y1="229.5" x2="28.8" y2="229.5" stroke="#444" stroke-width="0.8"/>
<text x="22" y="232.1" font-size="8.4" text-anchor="end" font-weight="bold" font-style="normal" >60</text>
<line x1="26.6" y1="198" x2="28.8" y2="198" stroke="#444" stroke-width="0.8"/>
<text x="22" y="200.6" font-size="8.4" text-anchor="end" font-weight="bold" font-style="normal" >80</text>
<line x1="26.6" y1="166.5" x2="28.8" y2="166.5" stroke="#444" stroke-width="0.8"/>
<text x="22" y="169.1" font-size="8.4" text-anchor="end" font-weight="bold" font-style="normal" >100</text>
<text x="0" y="0" font-size="7.6" font-weight="bold" text-anchor="middle" transform="translate(7.1,246.7) rotate(-90)">% Dendritic cells</text>
<text x="54.2" y="169" font-size="8.1" font-weight="bold"><tspan font-style="italic">P</tspan><tspan dx="0.9">=</tspan><tspan dx="1.1">.01</tspan></text>
<text x="141.5" y="169" font-size="8.1" font-weight="bold"><tspan font-style="italic">P</tspan><tspan dx="0.9">=</tspan><tspan dx="1.1">.008</tspan></text>
<text x="231.4" y="169" font-size="8.1" font-weight="bold"><tspan font-style="italic">P</tspan><tspan dx="0.9">=</tspan><tspan dx="1.1">.01</tspan></text>
<text x="63.5" y="342.2" font-size="7.2" text-anchor="middle" font-weight="bold" font-style="normal" >CD1a</text>
<text x="155.4" y="342.2" font-size="7.2" text-anchor="middle" font-weight="bold" font-style="normal" >CD83</text>
<text x="242.9" y="342.2" font-size="7.2" text-anchor="middle" font-weight="bold" font-style="normal" >CD80</text>
<circle cx="43.6" cy="213.2" r="3.25" fill="#000"/>
<circle cx="43.6" cy="228.3" r="3.25" fill="#000"/>
<circle cx="43.6" cy="248.1" r="3.25" fill="#000"/>
<circle cx="46" cy="268.6" r="3.25" fill="#000"/>
<circle cx="40.4" cy="272.9" r="3.25" fill="#000"/>
<circle cx="43.2" cy="284.8" r="3.25" fill="#000"/>
<line x1="36.6" y1="252.5" x2="53" y2="252.5" stroke="#000" stroke-width="1.35"/>
<polygon points="65,239.8 65.73,241.79 67.85,241.87 66.19,243.19 66.76,245.23 65,244.05 63.24,245.23 63.81,243.19 62.15,241.87 64.27,241.79" fill="#000"/>
<rect x="87" y="230.7" width="6" height="6" fill="#fff" stroke="#000" stroke-width="1.15"/>
<text x="90" y="235.65" font-size="5.4" font-weight="bold" text-anchor="middle">1</text>
<rect x="87" y="243.4" width="6" height="6" fill="#fff" stroke="#000" stroke-width="1.15"/>
<text x="90" y="248.35" font-size="5.4" font-weight="bold" text-anchor="middle">3</text>
<rect x="87" y="255.5" width="6" height="6" fill="#fff" stroke="#000" stroke-width="1.15"/>
<text x="90" y="260.45" font-size="5.4" font-weight="bold" text-anchor="middle">4</text>
<rect x="87" y="285" width="6" height="6" fill="#fff" stroke="#000" stroke-width="1.15"/>
<text x="90" y="289.95" font-size="5.4" font-weight="bold" text-anchor="middle">2</text>
<line x1="83.2" y1="256.2" x2="98.9" y2="256.2" stroke="#000" stroke-width="1.35"/>
<circle cx="66.2" cy="268.6" r="3.4" fill="#fff" stroke="#000" stroke-width="1"/>
<text x="66.2" y="270.15" font-size="3.7" font-weight="bold" text-anchor="middle">10</text>
<circle cx="53.8" cy="287.1" r="3.4" fill="#fff" stroke="#000" stroke-width="1"/>
<text x="53.8" y="288.65" font-size="3.7" font-weight="bold" text-anchor="middle">11</text>
<circle cx="61" cy="283.8" r="3.4" fill="#fff" stroke="#000" stroke-width="1"/>
<text x="61" y="285.35" font-size="4.4" font-weight="bold" text-anchor="middle">4</text>
<circle cx="71.3" cy="285.1" r="3.4" fill="#fff" stroke="#000" stroke-width="1"/>
<text x="71.3" y="286.65" font-size="4.4" font-weight="bold" text-anchor="middle">9</text>
<circle cx="73.9" cy="294.8" r="3.4" fill="#fff" stroke="#000" stroke-width="1"/>
<text x="73.9" y="296.35" font-size="3.7" font-weight="bold" text-anchor="middle">12</text>
<circle cx="57.3" cy="299.4" r="3.4" fill="#fff" stroke="#000" stroke-width="1"/>
<text x="57.3" y="300.95" font-size="4.4" font-weight="bold" text-anchor="middle">6</text>
<circle cx="66.8" cy="299.4" r="3.4" fill="#fff" stroke="#000" stroke-width="1"/>
<text x="66.8" y="300.95" font-size="4.4" font-weight="bold" text-anchor="middle">7</text>
<circle cx="53.2" cy="311" r="3.4" fill="#fff" stroke="#000" stroke-width="1"/>
<text x="53.2" y="312.55" font-size="4.4" font-weight="bold" text-anchor="middle">1</text>
<circle cx="60.3" cy="313" r="3.4" fill="#fff" stroke="#000" stroke-width="1"/>
<text x="60.3" y="314.55" font-size="4.4" font-weight="bold" text-anchor="middle">3</text>
<circle cx="69.4" cy="311.4" r="3.4" fill="#fff" stroke="#000" stroke-width="1"/>
<text x="69.4" y="312.95" font-size="4.4" font-weight="bold" text-anchor="middle">5</text>
<circle cx="59.9" cy="320.7" r="3.4" fill="#fff" stroke="#000" stroke-width="1"/>
<text x="59.9" y="322.25" font-size="4.4" font-weight="bold" text-anchor="middle">2</text>
<circle cx="70" cy="319.2" r="3.4" fill="#fff" stroke="#000" stroke-width="1"/>
<text x="70" y="320.75" font-size="4.4" font-weight="bold" text-anchor="middle">8</text>
<line x1="52.3" y1="300" x2="75.3" y2="300" stroke="#000" stroke-width="1.35"/>
<circle cx="127.7" cy="277.7" r="3.25" fill="#000"/>
<circle cx="133.3" cy="282.7" r="3.25" fill="#000"/>
<circle cx="131.9" cy="292.4" r="3.25" fill="#000"/>
<circle cx="127.7" cy="298.5" r="3.25" fill="#000"/>
<circle cx="134.5" cy="300.8" r="3.25" fill="#000"/>
<circle cx="128.1" cy="307.3" r="3.25" fill="#000"/>
<line x1="124.2" y1="293.9" x2="139.8" y2="293.9" stroke="#000" stroke-width="1.35"/>
<polygon points="158.2,282.2 158.93,284.19 161.05,284.27 159.39,285.59 159.96,287.63 158.2,286.45 156.44,287.63 157.01,285.59 155.35,284.27 157.47,284.19" fill="#000"/>
<rect x="179.5" y="271.8" width="6" height="6" fill="#fff" stroke="#000" stroke-width="1.15"/>
<text x="182.5" y="276.75" font-size="5.4" font-weight="bold" text-anchor="middle">2</text>
<rect x="188" y="269.5" width="6" height="6" fill="#fff" stroke="#000" stroke-width="1.15"/>
<text x="191" y="274.45" font-size="5.4" font-weight="bold" text-anchor="middle">1</text>
<rect x="184.8" y="284.5" width="6" height="6" fill="#fff" stroke="#000" stroke-width="1.15"/>
<text x="187.8" y="289.45" font-size="5.4" font-weight="bold" text-anchor="middle">4</text>
<rect x="184.8" y="296" width="6" height="6" fill="#fff" stroke="#000" stroke-width="1.15"/>
<text x="187.8" y="300.95" font-size="5.4" font-weight="bold" text-anchor="middle">3</text>
<line x1="180" y1="284.2" x2="195" y2="284.2" stroke="#000" stroke-width="1.35"/>
<circle cx="157.7" cy="307.5" r="3.4" fill="#fff" stroke="#000" stroke-width="1"/>
<text x="157.7" y="309.05" font-size="3.7" font-weight="bold" text-anchor="middle">10</text>
<circle cx="149.6" cy="311.5" r="3.4" fill="#fff" stroke="#000" stroke-width="1"/>
<text x="149.6" y="313.05" font-size="4.4" font-weight="bold" text-anchor="middle">4</text>
<circle cx="157.1" cy="314.1" r="3.4" fill="#fff" stroke="#000" stroke-width="1"/>
<text x="157.1" y="315.65" font-size="4.4" font-weight="bold" text-anchor="middle">9</text>
<circle cx="165.2" cy="313.8" r="3.4" fill="#fff" stroke="#000" stroke-width="1"/>
<text x="165.2" y="315.35" font-size="4.4" font-weight="bold" text-anchor="middle">6</text>
<circle cx="136.9" cy="316.1" r="3.4" fill="#fff" stroke="#000" stroke-width="1"/>
<text x="136.9" y="317.65" font-size="3.7" font-weight="bold" text-anchor="middle">12</text>
<circle cx="141" cy="319.6" r="3.4" fill="#fff" stroke="#000" stroke-width="1"/>
<text x="141" y="321.15" font-size="4.4" font-weight="bold" text-anchor="middle">5</text>
<circle cx="149" cy="319.6" r="3.4" fill="#fff" stroke="#000" stroke-width="1"/>
<text x="149" y="321.15" font-size="4.4" font-weight="bold" text-anchor="middle">8</text>
<circle cx="170.4" cy="316.7" r="3.4" fill="#fff" stroke="#000" stroke-width="1"/>
<text x="170.4" y="318.25" font-size="4.4" font-weight="bold" text-anchor="middle">2</text>
<circle cx="176.1" cy="319" r="3.4" fill="#fff" stroke="#000" stroke-width="1"/>
<text x="176.1" y="320.55" font-size="4.4" font-weight="bold" text-anchor="middle">7</text>
<circle cx="183.6" cy="320.8" r="3.4" fill="#fff" stroke="#000" stroke-width="1"/>
<text x="183.6" y="322.35" font-size="3.7" font-weight="bold" text-anchor="middle">11</text>
<circle cx="157.1" cy="323.6" r="3.4" fill="#fff" stroke="#000" stroke-width="1"/>
<text x="157.1" y="325.15" font-size="4.4" font-weight="bold" text-anchor="middle">1</text>
<circle cx="164.6" cy="323.6" r="3.4" fill="#fff" stroke="#000" stroke-width="1"/>
<text x="164.6" y="325.15" font-size="4.4" font-weight="bold" text-anchor="middle">3</text>
<line x1="150.6" y1="320" x2="167.5" y2="320" stroke="#000" stroke-width="1.35"/>
<circle cx="216" cy="225.3" r="3.25" fill="#000"/>
<circle cx="222.9" cy="223" r="3.25" fill="#000"/>
<circle cx="218.3" cy="237.5" r="3.25" fill="#000"/>
<circle cx="219.9" cy="254.4" r="3.25" fill="#000"/>
<circle cx="217.6" cy="262.7" r="3.25" fill="#000"/>
<circle cx="216.9" cy="295.7" r="3.25" fill="#000"/>
<line x1="212.3" y1="251.2" x2="229.1" y2="251.2" stroke="#000" stroke-width="1.35"/>
<polygon points="243.5,237.1 244.23,239.09 246.35,239.17 244.69,240.49 245.26,242.53 243.5,241.35 241.74,242.53 242.31,240.49 240.65,239.17 242.77,239.09" fill="#000"/>
<rect x="265.5" y="183.5" width="6" height="6" fill="#fff" stroke="#000" stroke-width="1.15"/>
<text x="268.5" y="188.45" font-size="5.4" font-weight="bold" text-anchor="middle">4</text>
<rect x="265.5" y="206.4" width="6" height="6" fill="#fff" stroke="#000" stroke-width="1.15"/>
<text x="268.5" y="211.35" font-size="5.4" font-weight="bold" text-anchor="middle">3</text>
<rect x="265.5" y="248" width="6" height="6" fill="#fff" stroke="#000" stroke-width="1.15"/>
<text x="268.5" y="252.95" font-size="5.4" font-weight="bold" text-anchor="middle">1</text>
<rect x="265.5" y="281.8" width="6" height="6" fill="#fff" stroke="#000" stroke-width="1.15"/>
<text x="268.5" y="286.75" font-size="5.4" font-weight="bold" text-anchor="middle">2</text>
<line x1="260.6" y1="234.4" x2="276.8" y2="234.4" stroke="#000" stroke-width="1.35"/>
<circle cx="244.2" cy="262.5" r="3.4" fill="#fff" stroke="#000" stroke-width="1"/>
<text x="244.2" y="264.05" font-size="3.7" font-weight="bold" text-anchor="middle">11</text>
<circle cx="237.9" cy="268.2" r="3.4" fill="#fff" stroke="#000" stroke-width="1"/>
<text x="237.9" y="269.75" font-size="3.7" font-weight="bold" text-anchor="middle">12</text>
<circle cx="239.8" cy="291.2" r="3.4" fill="#fff" stroke="#000" stroke-width="1"/>
<text x="239.8" y="292.75" font-size="4.4" font-weight="bold" text-anchor="middle">7</text>
<circle cx="247.9" cy="290.5" r="3.4" fill="#fff" stroke="#000" stroke-width="1"/>
<text x="247.9" y="292.05" font-size="3.7" font-weight="bold" text-anchor="middle">10</text>
<circle cx="255.5" cy="294.6" r="3.4" fill="#fff" stroke="#000" stroke-width="1"/>
<text x="255.5" y="296.15" font-size="4.4" font-weight="bold" text-anchor="middle">9</text>
<circle cx="229.8" cy="298" r="3.4" fill="#fff" stroke="#000" stroke-width="1"/>
<text x="229.8" y="299.55" font-size="4.4" font-weight="bold" text-anchor="middle">4</text>
<circle cx="239.2" cy="300.3" r="3.4" fill="#fff" stroke="#000" stroke-width="1"/>
<text x="239.2" y="301.85" font-size="4.4" font-weight="bold" text-anchor="middle">5</text>
<circle cx="247.9" cy="298" r="3.4" fill="#fff" stroke="#000" stroke-width="1"/>
<text x="247.9" y="299.55" font-size="4.4" font-weight="bold" text-anchor="middle">6</text>
<circle cx="255.8" cy="301.2" r="3.4" fill="#fff" stroke="#000" stroke-width="1"/>
<text x="255.8" y="302.75" font-size="4.4" font-weight="bold" text-anchor="middle">8</text>
<circle cx="244.2" cy="309.3" r="3.4" fill="#fff" stroke="#000" stroke-width="1"/>
<text x="244.2" y="310.85" font-size="4.4" font-weight="bold" text-anchor="middle">1</text>
<circle cx="250.6" cy="316" r="3.4" fill="#fff" stroke="#000" stroke-width="1"/>
<text x="250.6" y="317.55" font-size="4.4" font-weight="bold" text-anchor="middle">2</text>
<circle cx="236.6" cy="317.3" r="3.4" fill="#fff" stroke="#000" stroke-width="1"/>
<text x="236.6" y="318.85" font-size="4.4" font-weight="bold" text-anchor="middle">3</text>
<line x1="236" y1="295.6" x2="256.8" y2="295.6" stroke="#000" stroke-width="1.35"/>
<line x1="331.2" y1="143.5" x2="331.2" y2="187.6" stroke="#222" stroke-width="1.1"/>
<line x1="331.2" y1="190.6" x2="331.2" y2="358.6" stroke="#222" stroke-width="1.1"/>
<line x1="327.6" y1="190.2" x2="334.8" y2="185.6" stroke="#333" stroke-width="0.9"/>
<line x1="327.6" y1="193.0" x2="334.8" y2="188.4" stroke="#333" stroke-width="0.9"/>
<line x1="329" y1="143.5" x2="331.2" y2="143.5" stroke="#444" stroke-width="0.8"/>
<line x1="329" y1="169.9" x2="331.2" y2="169.9" stroke="#444" stroke-width="0.8"/>
<line x1="329" y1="198.5" x2="331.2" y2="198.5" stroke="#444" stroke-width="0.8"/>
<line x1="329" y1="225.9" x2="331.2" y2="225.9" stroke="#444" stroke-width="0.8"/>
<line x1="329" y1="251.8" x2="331.2" y2="251.8" stroke="#444" stroke-width="0.8"/>
<line x1="329" y1="277.7" x2="331.2" y2="277.7" stroke="#444" stroke-width="0.8"/>
<line x1="329" y1="303.7" x2="331.2" y2="303.7" stroke="#444" stroke-width="0.8"/>
<line x1="329" y1="329.5" x2="331.2" y2="329.5" stroke="#444" stroke-width="0.8"/>
<line x1="329" y1="355.5" x2="331.2" y2="355.5" stroke="#444" stroke-width="0.8"/>
<text x="323.8" y="146.2" font-size="7.9" text-anchor="end" font-weight="bold" font-style="normal" >700</text>
<text x="323.8" y="201.5" font-size="7.9" text-anchor="end" font-weight="bold" font-style="normal" >300</text>
<text x="323.8" y="254.5" font-size="7.9" text-anchor="end" font-weight="bold" font-style="normal" >200</text>
<text x="323.8" y="306.4" font-size="7.9" text-anchor="end" font-weight="bold" font-style="normal" >100</text>
<text x="323.8" y="358.2" font-size="7.9" text-anchor="end" font-weight="bold" font-style="normal" >0</text>
<text x="0" y="0" font-size="7" font-weight="bold" text-anchor="middle" transform="translate(311.8,225.8) rotate(-90)">MFI</text>
<line x1="331.2" y1="356" x2="507.5" y2="356" stroke="#222" stroke-width="1.1"/>
<line x1="389.2" y1="356" x2="389.2" y2="358.4" stroke="#444" stroke-width="0.8"/>
<line x1="448.5" y1="356" x2="448.5" y2="358.4" stroke="#444" stroke-width="0.8"/>
<line x1="507.2" y1="356" x2="507.2" y2="358.4" stroke="#444" stroke-width="0.8"/>
<text x="359.6" y="369.6" font-size="7.2" text-anchor="middle" font-weight="bold" font-style="normal" >HLA-DR</text>
<text x="418.8" y="369.6" font-size="7.2" text-anchor="middle" font-weight="bold" font-style="normal" >CD40</text>
<text x="476" y="369.6" font-size="7.2" text-anchor="middle" font-weight="bold" font-style="normal" >CD11c</text>
<polygon points="357.3,238.8 360.2,241.7 357.3,244.6 354.4,241.7" fill="#fff" stroke="#000" stroke-width="1.0"/>
<rect x="361.25" y="243.4" width="4.2" height="2.8" fill="#000" stroke="#000" stroke-width="1.0"/>
<circle cx="360.1" cy="264.1" r="2.4" fill="#000" stroke="#000" stroke-width="1.0"/>
<rect x="357.7" y="272.55" width="3.9" height="2.7" fill="#fff" stroke="#777" stroke-width="1.0"/>
<circle cx="359.6" cy="278.2" r="1.25" fill="#fff" stroke="#777" stroke-width="1.0"/>
<rect x="357.7" y="289.45" width="4" height="2.7" fill="#fff" stroke="#000" stroke-width="1.0"/>
<path d="M362.8 288.4H367.6M365.2 286V290.8" stroke="#000" stroke-width="0.9" fill="none"/>
<polygon points="358,297.45 361,297.45 359.5,294.95" fill="#fff" stroke="#888" stroke-width="1.1" stroke-linejoin="round"/>
<circle cx="359.5" cy="300.6" r="1.8" fill="#fff" stroke="#000" stroke-width="1.0"/>
<polygon points="357.5,308.5 362.5,308.5 360,312.3" fill="#fff" stroke="#000" stroke-width="1.1" stroke-linejoin="round"/>
<path d="M357.6 315.6L361.8 319.8M357.6 319.8L361.8 315.6" stroke="#000" stroke-width="1.1" fill="none"/>
<polygon points="356.9,347.2 362.5,347.2 359.7,343.2" fill="#fff" stroke="#000" stroke-width="1.1" stroke-linejoin="round"/>
<rect x="415.8" y="230.1" width="4.5" height="2.6" fill="#000" stroke="#000" stroke-width="1.0"/>
<polygon points="417.6,235.3 420.5,238.2 417.6,241.1 414.7,238.2" fill="#fff" stroke="#000" stroke-width="1.0"/>
<circle cx="422.6" cy="236" r="2.3" fill="#fff" stroke="#000" stroke-width="1.0"/>
<path d="M416.2 245.2H420.2M418.2 243.2V247.2" stroke="#000" stroke-width="0.9" fill="none"/>
<polygon points="415.5,248.6 420.5,248.6 418,252.2" fill="#fff" stroke="#000" stroke-width="1.1" stroke-linejoin="round"/>
<path d="M414 264.1L418.2 268.3M414 268.3L418.2 264.1" stroke="#000" stroke-width="1.1" fill="none"/>
<rect x="421.05" y="262.95" width="3.7" height="2.9" fill="#fff" stroke="#777" stroke-width="1.0"/>
<polygon points="415.4,275.05 420.4,275.05 417.9,271.75" fill="#fff" stroke="#777" stroke-width="1.1" stroke-linejoin="round"/>
<circle cx="421.6" cy="271.5" r="1.1" fill="#fff" stroke="#777" stroke-width="1.0"/>
<rect x="412.9" y="318.85" width="4.4" height="2.7" fill="#fff" stroke="#000" stroke-width="1.0"/>
<circle cx="419.7" cy="323.3" r="2.4" fill="#000" stroke="#000" stroke-width="1.0"/>
<polygon points="415.4,346.9 421.2,346.9 418.3,342.9" fill="#fff" stroke="#000" stroke-width="1.1" stroke-linejoin="round"/>
<path d="M473.7 170.3H478.7M476.2 167.8V172.8" stroke="#000" stroke-width="0.9" fill="none"/>
<polygon points="476.5,206 479.3,208.8 476.5,211.6 473.7,208.8" fill="#fff" stroke="#000" stroke-width="1.0"/>
<circle cx="477.5" cy="212.4" r="2.3" fill="#fff" stroke="#000" stroke-width="1.0"/>
<path d="M470.5 242.5V225.6H491.8" stroke="#666" stroke-width="0.85" fill="none"/>
<path d="M475.0 243V230.5H490.6" stroke="#666" stroke-width="0.85" fill="none"/>
<path d="M481 240.6H492.8" stroke="#666" stroke-width="0.85" fill="none"/>
<path d="M475.3 247V250.5H491.8" stroke="#666" stroke-width="0.85" fill="none"/>
<path d="M467.5 242.3L471.5 246.3M467.5 246.3L471.5 242.3" stroke="#000" stroke-width="1.1" fill="none"/>
<rect x="472.7" y="242.9" width="4.4" height="3.4" fill="#fff" stroke="#666" stroke-width="1.0"/>
<circle cx="475.2" cy="245.8" r="1.1" fill="#fff" stroke="#666" stroke-width="1.0"/>
<rect x="478.2" y="243.3" width="4.8" height="3.4" fill="#000" stroke="#000" stroke-width="1.0"/>
<rect x="473.7" y="253.9" width="4.8" height="2.8" fill="#fff" stroke="#000" stroke-width="1.0"/>
<polygon points="474.2,262.7 479.2,262.7 476.7,266.9" fill="#fff" stroke="#000" stroke-width="1.1" stroke-linejoin="round"/>
<circle cx="476.4" cy="282" r="1.2" fill="#fff" stroke="#777" stroke-width="1.0"/>
<polygon points="473.8,315.6 479.2,315.6 476.5,311.6" fill="#fff" stroke="#000" stroke-width="1.1" stroke-linejoin="round"/>
<circle cx="476.4" cy="333.4" r="2.4" fill="#000" stroke="#000" stroke-width="1.0"/>
<text x="495" y="172.8" font-size="6.3" text-anchor="start" font-weight="bold" font-style="normal" >CVID 12</text>
<text x="495" y="208.1" font-size="6.3" text-anchor="start" font-weight="bold" font-style="normal" >CVID 5</text>
<text x="495" y="215.7" font-size="6.3" text-anchor="start" font-weight="bold" font-style="normal" >CVID 10</text>
<text x="495" y="226.9" font-size="6.3" text-anchor="start" font-weight="bold" font-style="normal" >CVID 11</text>
<text x="495" y="233.6" font-size="6.3" text-anchor="start" font-weight="bold" font-style="normal" >CVID 1</text>
<text x="495" y="244" font-size="6.3" text-anchor="start" font-weight="bold" font-style="normal" >CVID 4</text>
<text x="495" y="252.3" font-size="6.3" text-anchor="start" font-weight="bold" font-style="normal" >CVID 8</text>
<text x="495" y="258.5" font-size="6.3" text-anchor="start" font-weight="bold" font-style="normal" >CVID 7</text>
<text x="495" y="266.7" font-size="6.3" text-anchor="start" font-weight="bold" font-style="normal" >CVID 9</text>
<text x="495" y="283.5" font-size="6.3" text-anchor="start" font-weight="bold" font-style="normal" >CVID 2</text>
<text x="495" y="316" font-size="6.3" text-anchor="start" font-weight="bold" font-style="normal" >CVID 3</text>
<text x="495" y="335.7" font-size="6.3" text-anchor="start" font-weight="bold" font-style="normal" >CVID 6</text>
</g>
</svg>
</body></html>
